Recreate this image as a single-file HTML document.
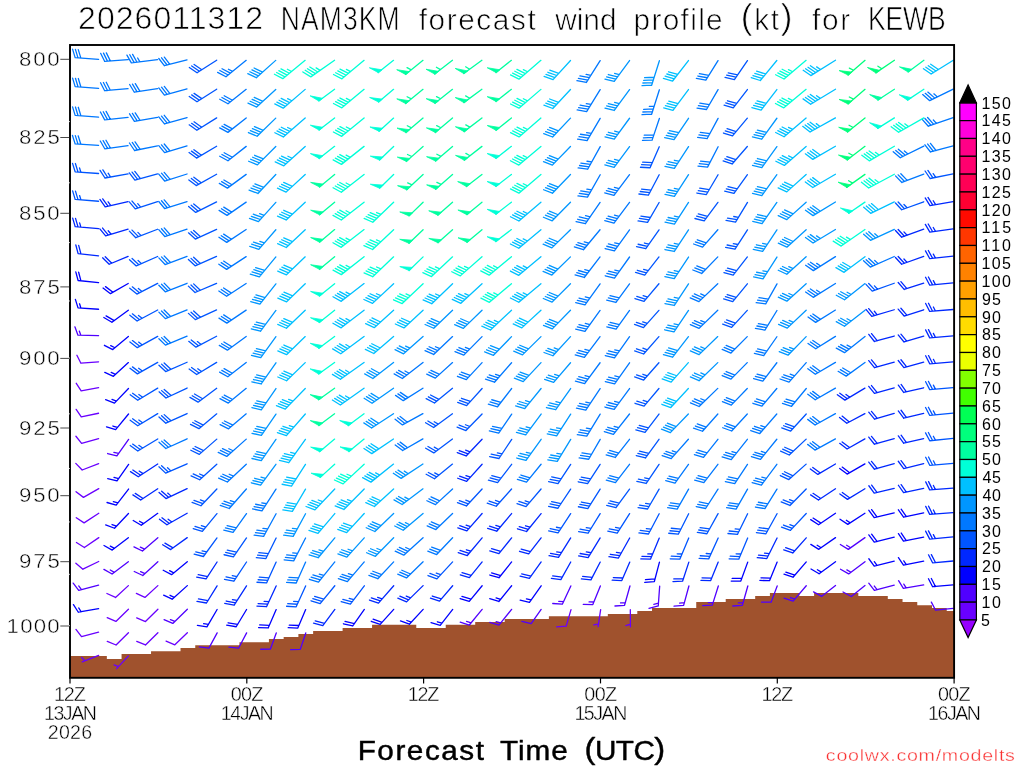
<!DOCTYPE html>
<html lang="en"><head><meta charset="utf-8"><title>NAM3KM forecast wind profile (kt) for KEWB</title>
<style>
html,body{margin:0;padding:0;background:#fff;}
body{width:1024px;height:768px;overflow:hidden;}
svg{display:block;}
text{font-family:"Liberation Sans","DejaVu Sans",sans-serif;}
.b{fill:none;stroke-width:1.30;stroke-linecap:round;stroke-linejoin:round;}
.t{fill:#000;stroke:#fff;stroke-width:0.7px;}
.ax{fill:#000;stroke:#fff;stroke-width:0.45px;}
.xl{fill:#000;stroke:#fff;stroke-width:0.4px;}
.cb{fill:#000;}
.fl{fill:#000;stroke:#000;stroke-width:0.45px;stroke-linejoin:round;}
.cr{fill:#fa3232;stroke:#fff;stroke-width:0.3px;}
</style></head>
<body>
<svg width="1024" height="768" viewBox="0 0 1024 768">
<rect width="1024" height="768" fill="#fff"/>
<path d="M70.0 677.8L70.00 656.0L77.37 656.0L77.37 656.0L92.10 656.0L92.10 656.0L106.84 656.0L106.84 659.0L121.57 659.0L121.57 654.0L136.31 654.0L136.31 654.0L151.04 654.0L151.04 651.2L165.78 651.2L165.78 651.2L180.51 651.2L180.51 648.1L195.25 648.1L195.25 645.3L209.98 645.3L209.98 645.3L224.72 645.3L224.72 645.3L239.45 645.3L239.45 642.2L254.19 642.2L254.19 642.2L268.92 642.2L268.92 639.1L283.66 639.1L283.66 637.0L298.39 637.0L298.39 634.0L313.13 634.0L313.13 630.9L327.86 630.9L327.86 630.9L342.60 630.9L342.60 628.0L357.33 628.0L357.33 628.0L372.07 628.0L372.07 624.8L386.80 624.8L386.80 624.8L401.54 624.8L401.54 624.8L416.27 624.8L416.27 628.0L431.01 628.0L431.01 628.0L445.74 628.0L445.74 624.8L460.48 624.8L460.48 624.8L475.21 624.8L475.21 622.0L489.95 622.0L489.95 622.0L504.68 622.0L504.68 618.9L519.42 618.9L519.42 618.9L534.15 618.9L534.15 618.9L548.89 618.9L548.89 616.2L563.62 616.2L563.62 616.2L578.36 616.2L578.36 616.2L593.09 616.2L593.09 616.2L607.83 616.2L607.83 614.1L622.56 614.1L622.56 614.1L637.30 614.1L637.30 610.9L652.03 610.9L652.03 608.1L666.77 608.1L666.77 608.1L681.50 608.1L681.50 608.1L696.24 608.1L696.24 602.1L710.97 602.1L710.97 602.1L725.71 602.1L725.71 598.9L740.44 598.9L740.44 598.9L755.18 598.9L755.18 596.0L769.91 596.0L769.91 593.1L784.65 593.1L784.65 593.1L799.38 593.1L799.38 596.0L814.12 596.0L814.12 593.1L828.85 593.1L828.85 593.1L843.59 593.1L843.59 593.1L858.32 593.1L858.32 596.1L873.06 596.1L873.06 596.1L887.79 596.1L887.79 599.1L902.53 599.1L902.53 602.0L917.26 602.0L917.26 605.2L932.00 605.2L932.00 608.0L946.73 608.0L946.73 611.1L954.10 611.1L954.1 677.8Z" fill="#a0522d"/>
<g class="b">
<path stroke="#0078ff" d="M98.57 59.40L75.15 57.66M75.15 57.66L72.56 49.17M78.00 57.87L75.41 49.39M80.86 58.08L78.27 49.60M128.04 59.60L104.62 61.33M104.62 61.33L100.64 53.31M107.47 61.12L103.50 53.10M110.33 60.91L106.36 52.88M157.51 59.67L131.35 62.94M131.35 62.94L126.93 55.12M134.19 62.59L129.77 54.76M137.03 62.23L132.61 54.41M139.88 61.88L137.66 57.96M187.01 59.84L164.32 65.72M164.32 65.72L158.80 58.50M167.09 65.01L161.57 57.79M169.85 64.29L164.34 57.07M98.57 88.40L75.16 86.57M75.16 86.57L72.60 78.07M78.01 86.79L75.46 78.30M80.87 87.02L78.31 78.52M128.04 88.63L104.65 90.70M104.65 90.70L100.54 82.73M107.50 90.45L103.40 82.47M110.35 90.19L106.25 82.22M157.52 88.71L134.31 92.23M134.31 92.23L129.66 84.51M137.14 91.80L132.49 84.08M139.97 91.37L135.32 83.65M187.02 88.86L164.42 95.07M164.42 95.07L158.78 87.92M167.17 94.31L161.54 87.17M169.93 93.56L164.30 86.41M98.57 117.09L75.15 115.32M75.15 115.32L72.57 106.83M78.01 115.53L75.43 107.04M80.86 115.75L78.28 107.26M128.04 117.34L104.70 119.90M104.70 119.90L100.41 112.01M107.55 119.59L103.26 111.70M110.39 119.27L106.10 111.39M157.52 117.42L134.40 121.42M134.40 121.42L129.57 113.80M137.22 120.93L132.39 113.31M140.04 120.44L135.21 112.82M187.02 117.55L164.48 123.96M164.48 123.96L158.77 116.86M167.23 123.18L161.52 116.08M169.97 122.40L164.27 115.30M98.57 145.46L75.13 143.90M75.13 143.90L72.47 135.44M77.99 144.09L75.32 135.63M80.85 144.28L78.18 135.82M128.05 145.72L104.77 148.78M104.77 148.78L100.29 140.98M107.61 148.41L103.13 140.61M110.44 148.04L105.97 140.24M157.53 145.82L134.54 150.50M134.54 150.50L129.46 143.01M137.34 149.93L132.26 142.44M140.15 149.36L135.07 141.87M187.03 145.93L164.59 152.67M164.59 152.67L158.77 145.65M167.32 151.85L161.50 144.83M170.06 151.03L164.24 144.01M246.21 60.33L225.98 76.75M225.98 76.75L217.65 72.34M228.18 74.97L219.85 70.55M230.37 73.19L222.04 68.77M232.57 71.41L228.41 69.20M246.20 89.33L228.00 103.74M228.00 103.74L219.73 99.22M230.22 101.98L221.95 97.47M232.44 100.22L224.17 95.71M246.20 118.01L227.95 132.37M227.95 132.37L219.70 127.83M230.18 130.62L221.92 126.08M232.40 128.87L224.15 124.33M246.20 146.37L227.99 160.77M227.99 160.77L219.72 156.26M230.21 159.02L221.94 154.50M232.43 157.26L224.16 152.75M600.15 60.61L586.39 82.45M586.39 82.45L576.95 80.70M587.88 80.08L578.44 78.33M589.38 77.71L579.94 75.96M590.87 75.33L586.15 74.46M600.16 89.62L586.64 111.61M586.64 111.61L577.18 109.95M588.11 109.22L578.65 107.56M589.58 106.83L580.12 105.18M591.05 104.45L586.32 103.62M659.39 89.75L651.62 114.22M651.62 114.22L642.00 114.66M652.46 111.56L642.85 112.00M653.31 108.90L643.69 109.35M654.15 106.25L649.34 106.47M600.18 118.32L587.11 140.56M587.11 140.56L577.62 139.07M588.53 138.14L579.04 136.66M589.95 135.73L580.46 134.24M591.37 133.31L586.63 132.57M659.37 118.43L652.11 140.11M652.11 140.11L642.49 140.42M652.99 137.47L643.37 137.78M653.88 134.82L644.26 135.13M600.21 146.69L587.69 169.23M587.69 169.23L578.16 167.95M589.05 166.78L579.52 165.50M590.41 164.33L580.88 163.06M591.77 161.89L587.01 161.25M718.02 60.61L705.86 80.12M705.86 80.12L696.41 78.41M707.34 77.74L697.90 76.03M708.82 75.36L699.38 73.65M718.06 89.64L706.52 109.50M706.52 109.50L697.02 108.06M707.93 107.08L698.43 105.64M709.34 104.66L699.84 103.22M718.09 118.34L707.22 138.55M707.22 138.55L697.67 137.39M708.54 136.09L699.00 134.92M709.87 133.62L700.32 132.46M718.11 146.71L707.56 167.08M707.56 167.08L697.99 166.05M708.84 164.60L699.28 163.57M710.13 162.11L700.57 161.09M953.25 89.09L929.71 100.64M929.71 100.64L922.69 94.61M932.27 99.39L925.25 93.36M934.83 98.13L927.81 92.10M937.38 96.88L933.87 93.86M953.19 117.62L928.33 126.19M928.33 126.19L922.20 119.40M931.03 125.26L924.90 118.47M933.73 124.33L927.60 117.54M936.43 123.40L933.36 120.00M923.79 146.14L900.26 157.71M900.26 157.71L893.23 151.69M902.82 156.46L895.79 150.43M905.37 155.20L898.34 149.18M907.93 153.94L904.41 150.93M953.16 145.90L930.52 151.98M930.52 151.98L924.93 144.80M933.28 151.24L927.69 144.06M936.04 150.50L930.45 143.32M187.03 174.00L164.68 181.01M164.68 181.01L158.76 174.06M167.41 180.16L161.49 173.20M170.13 179.30L164.22 172.35M187.03 201.73L164.61 208.54M164.61 208.54L158.77 201.54M167.34 207.71L161.50 200.71M170.08 206.88L164.23 199.87M187.04 229.20L164.80 236.54M164.80 236.54L158.77 229.67M167.51 235.64L161.48 228.77M170.22 234.75L164.19 227.88M187.06 256.39L165.11 264.53M165.11 264.53L158.81 257.88M167.79 263.54L161.48 256.88M170.47 262.55L164.16 255.89M246.17 174.38L227.44 188.14M227.44 188.14L219.35 183.35M229.72 186.46L221.64 181.67M232.01 184.78L223.92 180.00M246.15 202.10L227.06 215.38M227.06 215.38L219.11 210.41M229.39 213.76L221.44 208.79M231.72 212.14L223.77 207.17M246.14 229.51L226.76 242.41M226.76 242.41L218.93 237.28M229.13 240.84L221.29 235.71M231.49 239.26L223.65 234.14M246.13 256.65L226.63 269.37M226.63 269.37L218.85 264.18M229.01 267.82L221.23 262.63M231.39 266.27L223.61 261.08M600.20 174.74L587.51 197.18M587.51 197.18L577.99 195.84M588.89 194.74L579.37 193.40M590.27 192.30L580.75 190.96M591.64 189.87L586.89 189.20M629.52 174.65L613.96 195.32M613.96 195.32L604.71 192.86M615.65 193.07L606.40 190.62M617.34 190.83L608.09 188.37M619.03 188.58L614.41 187.36M600.10 202.42L585.43 223.69M585.43 223.69L576.07 221.59M587.02 221.38L577.67 219.28M588.61 219.07L579.26 216.97M590.21 216.76L585.53 215.71M629.52 202.39L613.99 223.08M613.99 223.08L604.74 220.64M615.68 220.83L606.43 218.39M617.37 218.59L608.11 216.15M619.05 216.34L614.43 215.12M600.01 229.79L583.45 249.72M583.45 249.72L574.34 246.88M585.25 247.56L576.14 244.71M587.05 245.40L577.94 242.55M588.85 243.23L584.29 241.81M629.54 229.84L614.41 250.81M614.41 250.81L605.11 248.53M616.05 248.53L606.75 246.25M617.70 246.26L608.40 243.98M619.34 243.98L614.69 242.84M600.05 256.97L584.28 277.49M584.28 277.49L575.06 274.96M585.99 275.26L576.77 272.73M587.70 273.04L578.48 270.50M589.41 270.81L584.80 269.54M629.55 257.00L614.51 278.02M614.51 278.02L605.20 275.78M616.14 275.74L606.83 273.49M617.77 273.46L608.46 271.21M619.41 271.17L614.75 270.05M717.84 229.77L702.57 247.09M702.57 247.09L693.56 244.00M704.44 244.98L695.42 241.89M706.30 242.87L697.28 239.78M717.80 256.87L701.69 273.47M701.69 273.47L692.84 269.98M703.65 271.45L694.81 267.96M705.61 269.42L696.77 265.94M923.74 174.07L901.89 182.45M901.89 182.45L895.50 175.86M904.55 181.43L898.17 174.83M907.22 180.41L900.83 173.81M835.46 256.64L813.36 270.60M813.36 270.60L805.66 265.31M815.76 269.09L808.06 263.79M818.16 267.57L810.46 262.28M820.56 266.05L816.71 263.41M894.30 256.47L870.30 267.09M870.30 267.09L863.55 260.80M872.90 265.93L866.15 259.65M875.51 264.78L868.76 258.50M878.12 263.63L874.74 260.49M187.07 283.27L165.27 291.77M165.27 291.77L158.84 285.21M167.92 290.74L161.50 284.18M170.58 289.70L164.15 283.14M187.07 309.87L165.37 318.60M165.37 318.60L158.86 312.11M168.02 317.54L161.51 311.04M170.66 316.47L164.16 309.98M187.08 336.18L165.46 345.12M165.46 345.12L158.89 338.68M168.10 344.03L161.52 337.59M170.73 342.94L164.16 336.51M246.13 283.51L226.63 296.23M226.63 296.23L218.85 291.04M229.01 294.68L221.23 289.49M231.39 293.13L223.61 287.94M246.14 310.11L226.88 323.16M226.88 323.16L219.00 318.09M229.23 321.57L221.35 316.50M231.58 319.98L223.70 314.91M246.17 336.45L227.40 350.16M227.40 350.16L219.33 345.36M229.69 348.49L221.62 343.69M231.98 346.82L223.91 342.02M246.19 362.52L227.82 376.72M227.82 376.72L219.61 372.13M230.06 374.99L221.85 370.39M232.30 373.26L224.09 368.66M452.55 336.58L433.68 354.46M433.68 354.46L425.00 350.64M435.73 352.52L427.05 348.70M437.78 350.58L429.10 346.76M439.83 348.64L435.49 346.73M482.05 336.61L463.80 355.10M463.80 355.10L454.99 351.55M465.79 353.09L456.97 349.54M467.77 351.08L458.96 347.53M469.75 349.07L465.34 347.30M423.00 362.52L402.36 378.46M402.36 378.46L394.15 373.86M404.60 376.73L396.39 372.13M406.84 375.00L398.63 370.40M409.08 373.27L404.98 370.97M452.53 362.59L435.32 378.12M435.32 378.12L426.75 374.10M437.42 376.22L428.85 372.21M439.52 374.33L430.95 370.32M482.08 362.67L466.34 379.59M466.34 379.59L457.41 376.28M468.26 377.53L459.33 374.22M470.18 375.47L461.25 372.16M511.58 362.70L494.50 382.21M494.50 382.21L485.47 379.14M496.35 380.09L487.32 377.02M498.21 377.97L489.18 374.90M500.06 375.85L495.55 374.32M600.08 283.86L585.00 304.86M585.00 304.86L575.70 302.60M586.64 302.58L577.33 300.32M588.28 300.30L578.97 298.04M589.91 298.02L585.26 296.89M629.54 283.85L615.97 302.46M615.97 302.46L606.69 300.14M617.63 300.19L608.34 297.87M619.28 297.93L609.99 295.60M600.08 310.43L584.99 331.43M584.99 331.43L575.69 329.17M586.63 329.15L577.33 326.89M588.27 326.87L578.96 324.61M589.91 324.59L585.26 323.46M629.55 310.43L616.12 329.14M616.12 329.14L606.81 326.88M617.76 326.86L608.45 324.60M619.39 324.58L610.09 322.32M600.05 336.72L584.42 357.34M584.42 357.34L575.18 354.86M586.12 355.10L576.88 352.62M587.82 352.86L578.58 350.38M589.51 350.62L584.89 349.38M629.55 336.74L614.52 357.78M614.52 357.78L605.21 355.54M616.15 355.50L606.84 353.26M617.79 353.21L608.47 350.97M619.42 350.93L614.76 349.81M600.06 362.76L584.68 383.56M584.68 383.56L575.41 381.18M586.35 381.30L577.08 378.92M588.02 379.04L578.75 376.66M589.69 376.78L585.06 375.59M629.55 362.78L614.63 383.88M614.63 383.88L605.30 381.68M616.25 381.59L606.92 379.39M617.87 379.30L608.55 377.10M619.49 377.01L614.83 375.91M717.76 283.70L698.92 301.62M698.92 301.62L690.24 297.82M700.97 299.67L692.28 295.87M703.01 297.73L694.33 293.93M705.06 295.78L700.72 293.88M777.00 283.93L765.71 303.92M765.71 303.92L756.19 302.58M767.09 301.48L757.57 300.15M768.46 299.05L758.95 297.71M717.77 310.29L699.08 328.35M699.08 328.35L690.36 324.61M701.11 326.39L692.39 322.65M703.14 324.43L694.42 320.69M705.17 322.47L700.81 320.60M776.96 310.48L764.90 330.05M764.90 330.05L755.45 328.39M766.37 327.67L756.92 326.00M767.84 325.28L758.39 323.62M747.25 336.61L730.96 353.04M730.96 353.04L722.16 349.47M732.95 351.03L724.15 347.46M734.93 349.03L726.13 345.46M776.90 336.75L763.73 355.63M763.73 355.63L754.39 353.49M765.34 353.33L756.00 351.18M766.94 351.03L757.60 348.88M747.25 362.65L730.99 379.10M730.99 379.10L722.18 375.54M732.98 377.09L724.17 373.54M734.96 375.09L726.15 371.53M776.85 362.75L762.83 381.04M762.83 381.04L753.60 378.52M764.54 378.81L755.31 376.29M766.25 376.58L757.02 374.06M806.24 362.69L789.05 382.11M789.05 382.11L780.04 379.00M790.92 380.00L781.91 376.89M792.78 377.89L783.78 374.78M794.65 375.78L790.15 374.23M835.46 283.49L813.27 297.33M813.27 297.33L805.60 292.00M815.68 295.83L808.01 290.49M818.09 294.33L810.42 288.99M820.50 292.82L816.66 290.16M835.45 310.07L815.68 322.38M815.68 322.38L808.03 317.04M818.09 320.88L810.44 315.54M820.51 319.38L812.85 314.04M835.46 336.38L815.73 348.76M815.73 348.76L808.05 343.45M818.14 347.25L810.46 341.94M820.54 345.74L812.86 340.43M865.01 336.49L844.56 352.66M844.56 352.66L836.29 348.15M846.78 350.91L838.52 346.39M849.00 349.15L840.74 344.64M851.22 347.40L847.09 345.14M835.44 362.38L815.34 374.19M815.34 374.19L807.84 368.66M817.79 372.75L810.29 367.22M820.24 371.31L812.74 365.78M864.98 362.49L846.16 376.14M846.16 376.14L838.11 371.31M848.45 374.47L840.40 369.64M850.75 372.81L842.69 367.98M187.10 438.80L165.84 448.51M165.84 448.51L159.01 442.30M168.43 447.32L161.60 441.11M171.02 446.14L164.19 439.93M246.22 388.32L228.29 403.05M228.29 403.05L219.93 398.68M230.48 401.26L222.12 396.89M232.67 399.46L224.30 395.09M246.23 413.85L228.56 428.87M228.56 428.87L220.12 424.62M230.72 427.04L222.28 422.79M232.87 425.20L224.43 420.96M246.25 439.12L226.78 456.40M226.78 456.40L218.25 452.32M228.90 454.52L220.36 450.44M231.01 452.65L222.48 448.57M233.13 450.77L228.86 448.73M246.28 464.16L227.33 481.97M227.33 481.97L218.67 478.11M229.38 480.03L220.73 476.18M231.44 478.10L222.78 474.24M233.50 476.16L229.17 474.24M422.92 388.19L403.26 400.67M403.26 400.67L395.56 395.39M405.66 399.15L397.95 393.87M408.06 397.63L400.35 392.35M511.64 388.52L497.54 406.76M497.54 406.76L488.33 404.20M499.26 404.53L490.05 401.97M500.98 402.31L491.77 399.75M422.88 413.63L402.45 424.89M402.45 424.89L395.12 419.18M404.94 423.52L397.61 417.81M407.43 422.15L400.10 416.44M511.70 414.07L498.70 433.06M498.70 433.06L489.34 430.99M500.29 430.75L490.93 428.67M501.87 428.43L492.51 426.36M422.89 438.91L402.70 450.56M402.70 450.56L395.25 444.98M405.16 449.14L397.71 443.56M407.62 447.72L400.17 442.14M600.12 388.57L585.81 410.08M585.81 410.08L576.43 408.12M587.37 407.74L577.98 405.78M588.92 405.41L579.53 403.45M590.47 403.07L585.78 402.09M629.54 388.54L614.22 409.38M614.22 409.38L604.94 407.03M615.88 407.12L606.61 404.76M617.55 404.85L608.27 402.50M619.21 402.59L614.57 401.41M600.17 414.11L586.79 436.17M586.79 436.17L577.32 434.57M588.24 433.78L578.77 432.18M589.70 431.38L580.23 429.78M591.15 428.99L586.41 428.19M629.50 414.02L613.45 434.34M613.45 434.34L604.27 431.69M615.19 432.13L606.01 429.49M616.94 429.93L607.75 427.28M618.68 427.72L614.09 426.40M600.19 439.38L588.68 459.26M588.68 459.26L579.18 457.83M590.09 456.84L580.59 455.41M591.49 454.41L581.99 452.98M629.50 439.28L615.33 457.47M615.33 457.47L606.13 454.87M617.06 455.25L607.86 452.65M618.79 453.03L609.58 450.44M541.08 464.28L526.51 482.16M526.51 482.16L517.37 479.38M528.28 479.98L519.14 477.20M530.06 477.80L520.92 475.02M629.51 464.30L615.48 482.59M615.48 482.59L606.26 480.06M617.19 480.36L607.97 477.83M618.90 478.13L609.68 475.60M717.77 388.40L699.13 406.52M699.13 406.52L690.40 402.80M701.16 404.55L692.43 400.83M703.18 402.58L694.45 398.87M705.20 400.61L700.84 398.76M747.27 388.43L731.29 405.15M731.29 405.15L722.42 401.72M733.24 403.11L724.37 399.69M735.19 401.07L726.32 397.65M776.80 388.49L761.96 406.16M761.96 406.16L752.87 403.27M763.77 404.01L754.68 401.11M765.58 401.85L756.49 398.96M806.28 388.49L791.56 406.27M791.56 406.27L782.45 403.43M793.36 404.10L784.24 401.26M795.15 401.93L786.04 399.10M717.84 413.98L702.52 431.26M702.52 431.26L693.51 428.14M704.38 429.15L695.38 426.03M706.25 427.04L697.25 423.92M747.29 413.96L731.68 431.00M731.68 431.00L722.73 427.75M733.59 428.92L724.64 425.68M735.49 426.85L726.54 423.60M776.78 413.98L759.78 433.55M759.78 433.55L750.74 430.52M761.63 431.43L752.59 428.40M763.47 429.30L754.43 426.27M765.32 427.18L760.80 425.66M688.38 439.23L671.20 458.67M671.20 458.67L662.19 455.57M673.07 456.56L664.06 453.46M674.93 454.45L665.92 451.35M676.80 452.34L672.29 450.79M717.90 439.28L703.53 457.32M703.53 457.32L694.36 454.64M705.28 455.12L696.11 452.44M707.04 452.92L697.86 450.24M747.36 439.28L731.27 459.56M731.27 459.56L722.09 456.90M733.02 457.36L723.84 454.69M734.77 455.16L725.59 452.49M736.51 452.95L731.92 451.62M776.82 439.27L760.52 459.40M760.52 459.40L751.37 456.65M762.29 457.21L753.14 454.47M764.06 455.03L754.91 452.28M765.83 452.84L761.26 451.47M688.48 464.32L675.02 483.01M675.02 483.01L665.72 480.73M676.66 480.73L667.36 478.46M678.30 478.45L669.00 476.18M717.91 464.30L703.88 482.59M703.88 482.59L694.66 480.06M705.60 480.36L696.37 477.83M707.31 478.13L698.08 475.60M747.46 464.35L734.74 483.52M734.74 483.52L725.35 481.57M736.29 481.18L726.90 479.23M737.84 478.85L728.45 476.90M776.86 464.31L761.41 485.06M761.41 485.06L752.15 482.65M763.09 482.80L753.83 480.40M764.77 480.55L755.51 478.14M766.44 478.30L761.81 477.09M835.43 388.14L815.24 399.80M815.24 399.80L807.79 394.23M817.71 398.38L810.25 392.81M820.17 396.96L812.71 391.39M835.42 413.64L815.07 425.03M815.07 425.03L807.70 419.37M817.56 423.65L810.18 417.98M820.04 422.26L812.66 416.59M835.42 438.89L814.96 450.10M814.96 450.10L807.64 444.37M817.45 448.73L810.14 443.00M819.95 447.36L812.63 441.64M246.37 489.01L229.27 508.50M229.27 508.50L220.25 505.43M231.13 506.38L222.10 503.31M232.98 504.27L223.96 501.19M234.84 502.15L230.33 500.61M276.00 489.12L261.98 510.81M261.98 510.81L252.57 508.96M263.50 508.46L254.09 506.61M265.03 506.10L255.61 504.25M266.55 503.75L261.84 502.82M246.48 513.62L233.09 532.35M233.09 532.35L223.78 530.11M234.72 530.07L225.41 527.82M236.35 527.78L227.04 525.54M276.08 513.70L263.70 536.30M263.70 536.30L254.17 535.08M265.05 533.85L255.51 532.62M266.39 531.39L256.86 530.17M267.74 528.94L262.97 528.33M305.57 538.00L293.68 560.85M293.68 560.85L284.12 559.81M294.97 558.37L285.41 557.33M296.26 555.89L286.70 554.85M297.56 553.41L292.78 552.89M305.64 562.09L296.23 582.98M296.23 582.98L286.62 582.43M297.38 580.44L287.77 579.88M298.52 577.89L288.91 577.33M334.81 561.92L318.50 582.04M318.50 582.04L309.35 579.28M320.27 579.85L311.12 577.10M322.04 577.67L312.90 574.92M323.81 575.48L319.24 574.11M364.25 561.90L347.40 581.59M347.40 581.59L338.33 578.62M349.23 579.45L340.16 576.48M351.06 577.32L342.00 574.34M352.89 575.18L348.36 573.69M452.54 488.92L435.52 504.64M435.52 504.64L426.90 500.72M437.60 502.72L428.98 498.80M439.67 500.80L431.05 496.88M452.56 513.47L435.92 529.56M435.92 529.56L427.20 525.82M437.95 527.59L429.23 523.85M439.98 525.63L431.26 521.89M423.06 537.73L403.76 555.17M403.76 555.17L395.19 551.17M405.86 553.28L397.28 549.28M407.95 551.39L399.38 547.38M410.05 549.49L405.76 547.49M452.60 537.80L436.68 554.56M436.68 554.56L427.80 551.17M438.62 552.52L429.74 549.12M440.56 550.47L431.68 547.08M393.67 561.86L377.84 578.71M377.84 578.71L368.94 575.35M379.77 576.65L370.87 573.30M381.70 574.60L372.80 571.25M423.10 561.82L406.46 577.92M406.46 577.92L397.74 574.18M408.49 575.95L399.77 572.22M410.52 573.99L401.80 570.26M688.60 489.16L677.20 509.09M677.20 509.09L667.69 507.71M678.59 506.66L669.08 505.28M679.98 504.23L670.47 502.85M718.01 489.13L705.62 508.50M705.62 508.50L696.20 506.70M707.13 506.14L697.71 504.33M708.64 503.78L699.22 501.97M747.53 489.16L736.11 509.08M736.11 509.08L726.60 507.69M737.50 506.65L727.99 505.26M738.89 504.22L729.39 502.83M776.96 489.14L764.88 508.69M764.88 508.69L755.42 507.02M766.35 506.31L756.90 504.63M767.82 503.92L758.37 502.25"/>
<path stroke="#0055ff" d="M216.66 60.22L197.05 72.77M197.05 72.77L189.32 67.52M199.44 71.24L191.71 65.99M201.83 69.71L194.10 64.46M216.65 89.22L197.00 101.71M197.00 101.71L189.29 96.43M199.40 100.19L191.69 94.91M201.79 98.66L194.08 93.39M216.65 117.89L196.87 130.19M196.87 130.19L189.21 124.84M199.28 128.69L191.62 123.34M201.69 127.19L194.04 121.84M216.63 146.23L196.56 158.07M196.56 158.07L189.04 152.56M199.00 156.62L191.49 151.12M201.45 155.18L193.94 149.67M659.26 146.75L650.07 167.73M650.07 167.73L640.46 167.27M651.19 165.17L641.58 164.71M652.31 162.61L642.70 162.15M747.44 60.58L734.40 79.55M734.40 79.55L725.04 77.46M735.99 77.23L726.63 75.14M737.58 74.92L728.22 72.83M747.38 89.55L733.27 107.78M733.27 107.78L724.06 105.22M734.99 105.56L725.78 102.99M736.71 103.33L727.50 100.77M747.34 118.20L732.53 135.90M732.53 135.90L723.43 133.02M734.33 133.74L725.23 130.86M736.14 131.58L727.04 128.70M747.32 146.54L732.14 163.95M732.14 163.95L723.11 160.90M733.99 161.82L724.96 158.78M735.84 159.70L726.81 156.65M98.57 173.50L75.14 171.81M75.14 171.81L72.53 163.33M78.00 172.02L75.39 163.54M80.86 172.23L79.55 167.99M128.06 173.84L104.96 178.01M104.96 178.01L100.07 170.42M107.78 177.50L102.88 169.91M110.59 176.99L108.15 173.20M157.55 173.95L134.91 180.04M134.91 180.04L129.32 172.87M137.67 179.30L132.08 172.13M140.43 178.56L134.84 171.38M216.61 174.24L196.24 185.59M196.24 185.59L188.88 179.91M198.72 184.21L191.36 178.52M201.21 182.82L193.85 177.14M98.57 201.23L75.16 199.34M75.16 199.34L72.63 190.84M78.02 199.57L75.48 191.07M80.87 199.80L79.60 195.55M157.57 201.74L135.24 208.84M135.24 208.84L129.30 201.91M137.97 207.98L132.02 201.05M140.69 207.11L137.71 203.65M216.59 201.94L195.73 212.43M195.73 212.43L188.64 206.47M198.27 211.15L191.19 205.19M200.82 209.87L193.73 203.91M157.60 229.26L135.77 237.70M135.77 237.70L129.37 231.12M138.43 236.67L132.03 230.09M141.09 235.64L137.89 232.35M216.56 229.33L195.31 239.05M195.31 239.05L188.48 232.85M197.90 237.87L191.07 231.66M200.50 236.68L193.66 230.48M157.62 256.47L136.25 265.93M136.25 265.93L129.50 259.65M138.86 264.78L132.10 258.49M141.46 263.62L138.09 260.48M216.55 256.46L195.13 265.81M195.13 265.81L188.41 259.49M197.74 264.67L191.03 258.35M200.35 263.53L193.64 257.21M659.17 174.76L648.49 195.06M648.49 195.06L638.93 193.98M649.79 192.59L640.24 191.50M651.09 190.11L641.54 189.03M659.12 202.47L647.58 222.33M647.58 222.33L638.08 220.89M648.99 219.91L639.49 218.46M650.39 217.49L640.90 216.04M659.03 229.85L645.82 248.71M645.82 248.71L636.49 246.55M647.43 246.41L638.10 244.25M649.04 244.11L644.37 243.03M658.97 256.96L644.72 275.09M644.72 275.09L635.53 272.47M646.46 272.88L637.27 270.26M648.20 270.67L643.60 269.36M718.05 174.73L706.39 194.52M706.39 194.52L696.90 193.02M707.81 192.11L698.32 190.61M709.23 189.69L699.74 188.20M747.42 174.66L733.98 193.37M733.98 193.37L724.68 191.11M735.62 191.09L726.31 188.83M737.26 188.81L727.95 186.55M717.93 202.39L704.20 220.89M704.20 220.89L694.93 218.50M705.87 218.64L696.61 216.24M707.55 216.38L698.28 213.98M747.50 202.46L735.54 222.08M735.54 222.08L726.08 220.46M737.00 219.69L727.54 218.07M738.46 217.30L733.73 216.49M747.47 229.88L734.99 249.20M734.99 249.20L725.58 247.35M736.51 246.84L727.10 245.00M738.03 244.49L733.33 243.57M747.37 256.96L733.19 275.14M733.19 275.14L723.99 272.55M734.92 272.92L725.72 270.33M736.65 270.71L727.45 268.11M953.14 173.86L930.14 178.50M930.14 178.50L925.07 171.00M932.94 177.93L927.88 170.44M935.75 177.37L933.21 173.62M923.73 201.79L901.71 209.74M901.71 209.74L895.47 203.03M904.40 208.77L898.15 202.06M907.08 207.80L903.96 204.45M157.66 283.40L136.89 294.05M136.89 294.05L129.75 288.14M139.42 292.75L132.28 286.84M141.95 291.45L138.38 288.50M216.55 283.31L195.05 292.50M195.05 292.50L188.39 286.14M197.67 291.38L191.01 285.02M200.29 290.26L193.63 283.90M157.67 309.99L137.08 320.98M137.08 320.98L129.84 315.18M139.59 319.64L132.35 313.84M142.10 318.30L138.48 315.40M216.56 309.92L195.30 319.61M195.30 319.61L188.47 313.39M197.89 318.43L191.06 312.21M200.48 317.25L193.66 311.03M157.68 336.32L137.31 347.68M137.31 347.68L129.95 342.00M139.79 346.29L132.43 340.61M142.28 344.91L138.60 342.07M216.60 336.29L195.96 347.18M195.96 347.18L188.74 341.34M198.47 345.85L191.26 340.01M200.99 344.52L197.38 341.61M157.69 362.36L137.41 373.89M137.41 373.89L130.00 368.27M139.89 372.48L132.47 366.86M142.36 371.08L138.65 368.27M187.09 362.24L165.66 371.59M165.66 371.59L158.95 365.27M168.27 370.45L161.56 364.13M170.88 369.31L164.17 362.99M216.64 362.39L196.70 374.45M196.70 374.45L189.12 369.01M199.13 372.98L191.55 367.54M201.56 371.51L197.77 368.79M658.93 283.79L644.04 301.43M644.04 301.43L634.95 298.51M645.85 299.28L636.77 296.36M647.67 297.13L643.13 295.67M658.90 310.35L643.51 327.58M643.51 327.58L634.52 324.43M645.39 325.48L636.40 322.33M647.26 323.38L642.77 321.80M658.91 336.66L643.64 353.99M643.64 353.99L634.63 350.90M645.51 351.88L636.49 348.79M647.37 349.76L642.86 348.22M658.91 362.70L643.67 380.05M643.67 380.05L634.65 376.97M645.53 377.93L636.51 374.86M647.39 375.82L642.88 374.28M747.35 283.81L732.76 301.68M732.76 301.68L723.62 298.89M734.54 299.50L725.40 296.72M736.32 297.32L727.18 294.54M747.29 310.34L731.65 327.35M731.65 327.35L722.71 324.09M733.56 325.28L724.61 322.01M735.46 323.20L726.52 319.94M894.26 283.24L872.22 291.13M872.22 291.13L866.00 284.40M874.91 290.17L868.69 283.44M877.59 289.20L874.48 285.84M157.70 388.17L137.76 400.22M137.76 400.22L130.18 394.78M140.19 398.75L132.62 393.31M142.63 397.28L138.84 394.56M187.10 388.04L165.96 397.98M165.96 397.98L159.05 391.84M168.54 396.77L161.63 390.63M171.11 395.56L164.21 389.42M216.71 388.27L198.08 402.16M198.08 402.16L189.96 397.43M200.35 400.46L192.23 395.73M202.63 398.77L194.50 394.04M157.70 413.68L137.74 425.70M137.74 425.70L130.17 420.25M140.18 424.23L132.61 418.79M142.61 422.77L138.83 420.04M187.09 413.54L165.82 423.20M165.82 423.20L159.00 416.98M168.41 422.02L161.59 415.80M171.01 420.85L164.19 414.62M216.76 413.84L198.92 428.67M198.92 428.67L190.53 424.35M201.10 426.86L192.71 422.54M203.27 425.06L194.88 420.73M157.70 438.94L137.77 451.00M137.77 451.00L130.19 445.56M140.20 449.53L132.62 444.09M142.63 448.06L138.84 445.34M216.78 439.12L199.31 454.37M199.31 454.37L190.82 450.23M201.44 452.51L192.94 448.37M203.57 450.65L195.07 446.51M187.09 463.79L165.66 473.14M165.66 473.14L158.95 466.82M168.27 472.00L161.56 465.68M170.88 470.86L167.53 467.70M216.80 464.15L199.69 479.78M199.69 479.78L191.09 475.81M201.78 477.87L193.18 473.91M203.87 475.96L199.57 473.98M452.49 388.31L434.50 402.99M434.50 402.99L426.16 398.59M436.70 401.20L428.35 396.80M438.89 399.41L430.55 395.01M482.10 388.46L466.65 405.64M466.65 405.64L457.67 402.46M468.54 403.54L459.55 400.37M470.42 401.45L461.44 398.27M452.44 413.77L433.68 427.49M433.68 427.49L425.60 422.69M435.97 425.82L427.89 421.02M438.25 424.15L434.22 421.75M482.06 413.94L465.96 430.54M465.96 430.54L457.12 427.07M467.93 428.52L459.08 425.04M469.89 426.49L465.47 424.76M452.45 439.04L433.82 452.93M433.82 452.93L425.70 448.20M436.09 451.24L427.97 446.51M438.36 449.54L434.30 447.18M511.72 439.34L498.98 458.50M498.98 458.50L489.59 456.54M500.53 456.16L491.15 454.20M502.09 453.83L497.39 452.85M452.48 464.09L434.46 478.72M434.46 478.72L426.13 474.30M436.66 476.93L428.33 472.51M438.86 475.15L434.69 472.94M511.65 464.30L497.61 482.59M497.61 482.59L488.39 480.06M499.33 480.36L490.10 477.83M501.04 478.13L491.81 475.60M658.93 388.49L644.08 406.15M644.08 406.15L634.99 403.26M645.90 404.00L636.80 401.10M647.71 401.84L643.16 400.40M658.99 414.04L645.07 432.41M645.07 432.41L635.83 429.93M646.77 430.17L637.53 427.69M648.46 427.93L639.22 425.45M659.01 439.31L645.53 457.99M645.53 457.99L636.23 455.71M647.18 455.71L637.88 453.43M648.82 453.43L639.52 451.15M570.66 464.35L558.02 483.57M558.02 483.57L548.62 481.66M559.56 481.23L550.16 479.31M561.10 478.88L551.70 476.97M600.13 464.36L587.61 483.65M587.61 483.65L578.20 481.78M589.13 481.29L579.72 479.43M590.66 478.94L581.25 477.08M659.05 464.35L646.22 483.45M646.22 483.45L636.84 481.45M647.79 481.12L638.41 479.12M649.35 478.79L644.66 477.79M806.23 413.96L790.69 431.06M790.69 431.06L781.73 427.85M792.58 428.98L783.62 425.76M794.48 426.89L785.52 423.68M806.15 439.15L789.25 454.99M789.25 454.99L780.60 451.12M791.31 453.06L782.66 449.19M793.37 451.12L784.72 447.26M806.13 464.14L788.85 479.59M788.85 479.59L780.30 475.54M790.96 477.70L782.41 473.65M793.06 475.82L784.51 471.77M953.12 387.60L929.72 389.66M929.72 389.66L925.62 381.69M932.57 389.41L928.47 381.44M935.43 389.16L933.38 385.17M953.12 413.12L929.75 415.44M929.75 415.44L925.55 407.51M932.60 415.16L928.40 407.23M935.45 414.88L933.35 410.91M953.12 438.38L929.75 440.76M929.75 440.76L925.54 432.84M932.60 440.47L928.39 432.55M935.45 440.18L933.34 436.22M953.12 463.37L929.71 465.28M929.71 465.28L925.66 457.29M932.56 465.05L928.52 457.05M935.42 464.82L933.39 460.82M216.87 488.98L200.96 505.76M200.96 505.76L192.07 502.37M202.90 503.71L194.01 500.32M204.84 501.67L200.40 499.97M216.94 513.57L202.35 531.43M202.35 531.43L193.21 528.65M204.13 529.26L194.99 526.47M205.91 527.08L201.34 525.69M217.00 537.90L203.41 556.50M203.41 556.50L194.13 554.17M205.07 554.23L195.78 551.90M206.73 551.96L202.08 550.80M246.50 537.92L233.42 556.86M233.42 556.86L224.07 554.75M235.01 554.55L225.66 552.44M236.61 552.24L227.26 550.13M276.13 538.01L265.93 558.55M265.93 558.55L256.35 557.67M267.17 556.05L257.59 555.17M268.42 553.54L258.83 552.66M246.52 562.00L233.89 581.22M233.89 581.22L224.49 579.31M235.43 578.88L226.03 576.97M236.97 576.53L232.27 575.58M276.16 562.09L266.57 582.90M266.57 582.90L256.97 582.27M267.74 580.37L258.14 579.74M268.91 577.83L259.31 577.20M482.08 488.99L466.38 505.95M466.38 505.95L457.45 502.66M468.30 503.88L459.37 500.59M470.21 501.81L465.75 500.17M511.57 489.01L496.21 506.26M496.21 506.26L487.21 503.12M498.08 504.15L489.08 501.02M499.95 502.05L495.46 500.48M452.62 561.87L436.92 578.83M436.92 578.83L427.99 575.54M438.83 576.76L429.90 573.47M440.75 574.70L436.28 573.05M541.06 489.02L526.06 506.57M526.06 506.57L516.99 503.60M527.89 504.43L518.82 501.46M529.71 502.29L525.18 500.81M570.65 489.11L557.90 508.26M557.90 508.26L548.51 506.30M559.45 505.93L550.07 503.96M561.01 503.59L551.62 501.63M600.14 489.13L587.82 508.54M587.82 508.54L578.39 506.76M589.32 506.17L579.89 504.39M590.82 503.81L581.39 502.03M629.54 489.08L615.98 507.71M615.98 507.71L606.69 505.39M617.64 505.43L608.35 503.12M619.29 503.16L610.00 500.85M659.12 489.15L647.57 509.01M647.57 509.01L638.07 507.56M648.98 506.59L639.48 505.14M650.38 504.16L645.64 503.44M570.66 513.65L558.05 532.88M558.05 532.88L548.65 530.98M559.59 530.54L550.18 528.63M561.12 528.19L556.42 527.24M600.16 513.66L588.07 533.22M588.07 533.22L578.62 531.54M589.55 530.83L580.09 529.16M591.02 528.45L586.29 527.61M629.61 513.65L617.22 533.03M617.22 533.03L607.80 531.22M618.73 530.66L609.31 528.86M620.24 528.30L615.53 527.40M659.17 513.71L648.51 534.02M648.51 534.02L638.95 532.95M649.81 531.55L640.25 530.47M651.11 529.07L646.33 528.53M806.19 488.96L789.96 505.45M789.96 505.45L781.14 501.90M791.94 503.44L783.12 499.89M793.92 501.43L789.51 499.66M688.66 513.72L678.31 534.19M678.31 534.19L668.74 533.25M679.57 531.69L670.00 530.75M680.84 529.19L671.26 528.26M718.08 513.69L706.90 533.75M706.90 533.75L697.38 532.46M708.26 531.30L698.74 530.01M709.63 528.86L700.10 527.57M747.61 513.72L737.54 534.32M737.54 534.32L727.96 533.50M738.77 531.81L729.18 530.99M740.00 529.30L735.20 528.89M777.02 513.69L765.92 533.79M765.92 533.79L756.39 532.54M767.27 531.34L757.74 530.09M768.63 528.89L759.10 527.64M806.22 513.51L790.45 530.42M790.45 530.42L781.54 527.10M792.38 528.36L783.46 525.04M794.30 526.30L789.84 524.63M688.74 538.04L679.82 559.13M679.82 559.13L670.20 558.78M680.90 556.56L671.28 556.21M681.99 553.99L677.18 553.81M718.17 538.03L708.69 558.89M708.69 558.89L699.09 558.31M709.85 556.35L700.24 555.76M711.01 553.80L706.20 553.51M747.67 538.04L738.75 559.13M738.75 559.13L729.13 558.78M739.84 556.56L730.22 556.20M740.92 553.99L736.11 553.81M305.64 585.93L296.18 606.80M296.18 606.80L286.57 606.23M297.34 604.25L287.73 603.68M298.49 601.71L293.68 601.42M334.81 585.75L320.17 603.59M320.17 603.59L311.05 600.79M321.96 601.42L312.83 598.61M323.74 599.24L314.61 596.44M364.32 585.78L350.39 604.15M350.39 604.15L341.15 601.66M352.09 601.91L342.85 599.42M353.78 599.67L349.17 598.43"/>
<path stroke="#0096ff" d="M275.72 60.38L256.31 77.71M256.31 77.71L247.76 73.66M258.42 75.83L249.87 71.78M260.53 73.95L251.98 69.90M262.64 72.07L254.09 68.01M275.74 89.40L256.64 107.06M256.64 107.06L248.01 103.14M258.71 105.14L250.09 101.22M260.79 103.22L252.16 99.31M262.86 101.31L254.24 97.39M275.76 118.11L257.14 136.24M257.14 136.24L248.41 132.53M259.16 134.27L250.43 130.56M261.18 132.30L252.45 128.59M263.21 130.33L254.47 126.62M275.78 146.48L257.42 164.86M257.42 164.86L248.63 161.26M259.41 162.87L250.62 159.27M261.40 160.87L252.62 157.27M263.40 158.88L254.61 155.28M629.54 60.56L614.23 81.41M614.23 81.41L604.95 79.06M615.90 79.15L606.62 76.80M617.56 76.88L608.28 74.53M619.22 74.62L614.58 73.44M659.39 60.74L651.65 85.22M651.65 85.22L642.03 85.67M652.49 82.56L642.87 83.01M653.33 79.90L643.72 80.35M654.17 77.24L644.56 77.70M629.54 89.57L614.26 110.44M614.26 110.44L604.98 108.10M615.92 108.17L606.64 105.83M617.58 105.90L608.30 103.57M619.24 103.64L614.60 102.47M570.47 118.15L552.62 136.99M552.62 136.99L543.73 133.60M554.56 134.94L545.67 131.56M556.50 132.90L547.61 129.51M558.43 130.85L549.55 127.46M629.54 118.25L614.29 139.14M614.29 139.14L605.01 136.81M615.95 136.87L606.66 134.55M617.60 134.60L608.32 132.28M619.26 132.34L614.62 131.17M570.46 146.50L552.36 165.11M552.36 165.11L543.51 161.62M554.32 163.09L545.48 159.60M556.29 161.07L547.45 157.58M558.25 159.05L549.41 155.56M629.53 146.61L614.12 167.38M614.12 167.38L604.85 164.99M615.79 165.12L606.53 162.73M617.47 162.87L608.20 160.48M619.14 160.61L614.51 159.42M688.51 118.28L674.04 139.68M674.04 139.68L664.67 137.66M675.61 137.35L666.24 135.33M677.18 135.03L667.81 133.01M678.75 132.71L669.38 130.68M776.88 118.25L761.72 139.20M761.72 139.20L752.42 136.91M763.36 136.93L754.07 134.63M765.01 134.65L755.71 132.36M766.66 132.38L757.36 130.08M688.53 146.65L674.40 168.27M674.40 168.27L665.00 166.38M675.94 165.92L666.53 164.03M677.47 163.57L668.07 161.68M679.01 161.22L674.30 160.28M776.88 146.62L761.81 167.63M761.81 167.63L752.50 165.37M763.45 165.34L754.14 163.09M765.08 163.06L755.78 160.81M766.72 160.78L757.41 158.52M275.80 174.56L257.99 193.44M257.99 193.44L249.09 190.07M259.92 191.38L251.03 188.02M261.86 189.33L252.96 185.97M263.79 187.28L254.90 183.92M275.83 202.32L258.46 221.58M258.46 221.58L249.48 218.40M260.35 219.49L251.37 216.31M262.23 217.40L253.25 214.22M264.12 215.31L259.63 213.71M275.84 229.77L258.83 249.33M258.83 249.33L249.79 246.30M260.68 247.21L251.64 244.17M262.52 245.09L253.49 242.05M264.37 242.96L259.85 241.44M275.87 256.94L259.37 276.91M259.37 276.91L250.25 274.08M261.16 274.74L252.04 271.91M262.95 272.57L253.83 269.74M264.74 270.41L255.62 267.57M570.46 174.55L552.43 193.23M552.43 193.23L543.57 189.76M554.39 191.20L545.53 187.73M556.34 189.17L547.49 185.71M558.30 187.14L549.45 183.68M570.45 202.28L552.22 220.78M552.22 220.78L543.41 217.23M554.20 218.77L545.39 215.22M556.18 216.76L547.37 213.22M558.16 214.75L549.35 211.21M570.44 229.70L551.85 247.87M551.85 247.87L543.11 244.17M553.87 245.89L545.13 242.20M555.89 243.92L547.15 240.23M557.90 241.95L549.16 238.25M570.44 256.85L551.87 275.03M551.87 275.03L543.12 271.35M553.89 273.06L545.14 269.37M555.90 271.09L547.16 267.40M557.92 269.11L549.17 265.42M688.53 174.70L674.41 196.32M674.41 196.32L665.01 194.43M675.94 193.97L666.54 192.08M677.48 191.62L668.07 189.74M679.01 189.27L674.31 188.33M776.88 174.66L761.82 195.68M761.82 195.68L752.51 193.42M763.45 193.40L754.15 191.14M765.09 191.11L755.78 188.86M766.73 188.83L757.42 186.58M688.53 202.44L674.44 224.08M674.44 224.08L665.04 222.21M675.97 221.73L666.57 219.86M677.50 219.38L668.10 217.50M679.03 217.03L674.33 216.09M776.89 202.41L762.07 223.58M762.07 223.58L752.73 221.42M763.68 221.29L754.34 219.12M765.29 218.99L755.95 216.82M766.90 216.69L757.56 214.52M806.13 202.22L786.80 219.64M786.80 219.64L778.23 215.62M788.90 217.75L780.33 213.73M791.00 215.85L782.43 211.84M793.10 213.96L784.53 209.94M688.53 229.88L674.33 251.45M674.33 251.45L664.93 249.53M675.87 249.11L666.47 247.19M677.41 246.76L668.01 244.85M678.95 244.42L674.25 243.46M776.92 229.87L762.64 251.40M762.64 251.40L753.25 249.45M764.19 249.06L754.80 247.11M765.74 246.72L756.35 244.77M767.29 244.38L762.60 243.41M806.14 229.67L786.89 247.18M786.89 247.18L778.30 243.20M788.98 245.27L780.39 241.30M791.07 243.37L782.48 239.39M793.16 241.47L784.57 237.49M688.52 257.02L674.27 278.56M674.27 278.56L664.88 276.62M675.82 276.22L666.43 274.29M677.37 273.88L667.97 271.95M678.91 271.55L674.22 270.58M776.94 257.03L763.03 278.78M763.03 278.78L753.60 276.97M764.54 276.42L755.11 274.61M766.05 274.06L756.63 272.25M767.56 271.70L762.85 270.79M806.13 256.81L786.83 274.26M786.83 274.26L778.26 270.26M788.93 272.37L780.35 268.36M791.03 270.47L782.45 266.47M793.12 268.58L788.83 266.58M835.45 202.03L813.08 215.60M813.08 215.60L805.49 210.18M815.51 214.13L807.92 208.70M817.94 212.65L810.35 207.23M820.37 211.18L812.78 205.76M835.44 229.47L813.05 242.99M813.05 242.99L805.48 237.56M815.48 241.53L807.91 236.09M817.92 240.06L810.34 234.62M820.35 238.59L816.56 235.87M894.31 229.34L870.49 240.34M870.49 240.34L863.63 234.16M873.08 239.14L866.21 232.96M875.66 237.95L868.80 231.77M878.25 236.76L874.82 233.66M275.90 283.82L259.91 304.18M259.91 304.18L250.72 301.56M261.64 301.97L252.45 299.35M263.38 299.76L254.19 297.14M265.12 297.55L255.92 294.93M275.93 310.42L260.54 331.22M260.54 331.22L251.27 328.84M262.21 328.96L252.94 326.58M263.88 326.70L254.61 324.32M265.55 324.44L256.28 322.06M275.94 336.74L260.77 357.68M260.77 357.68L251.48 355.39M262.42 355.41L253.12 353.11M264.07 353.13L254.77 350.84M265.71 350.86L256.42 348.56M275.96 362.78L261.17 383.98M261.17 383.98L251.83 381.83M262.77 381.68L253.44 379.53M264.38 379.38L255.04 377.23M265.99 377.07L256.65 374.93M452.56 310.28L433.78 328.26M433.78 328.26L425.08 324.49M435.82 326.31L427.12 322.53M437.86 324.36L429.16 320.58M439.90 322.40L431.20 318.63M482.03 310.29L463.36 328.37M463.36 328.37L454.64 324.64M465.39 326.40L456.66 322.67M467.41 324.44L458.69 320.71M469.44 322.48L460.72 318.74M423.05 336.55L403.56 353.80M403.56 353.80L395.03 349.71M405.68 351.92L397.15 347.83M407.80 350.05L399.27 345.96M409.91 348.18L405.65 346.13M511.53 336.62L493.47 355.28M493.47 355.28L484.62 351.80M495.43 353.25L486.58 349.78M497.39 351.23L488.54 347.75M499.35 349.20L490.50 345.73M393.53 362.52L372.93 378.50M372.93 378.50L364.71 373.92M375.17 376.77L366.94 372.18M377.40 375.03L369.18 370.45M379.64 373.30L371.42 368.71M570.45 283.72L552.09 302.10M552.09 302.10L543.30 298.50M554.08 300.11L545.29 296.51M556.07 298.11L547.29 294.51M558.07 296.11L549.28 292.51M570.46 310.31L552.32 328.90M552.32 328.90L543.49 325.39M554.29 326.88L545.46 323.37M556.26 324.86L547.43 321.36M558.23 322.84L549.40 319.34M540.97 336.60L522.47 354.84M522.47 354.84L513.71 351.18M524.48 352.86L515.72 349.20M526.49 350.88L517.73 347.22M528.50 348.90L519.74 345.24M570.49 336.64L552.94 355.76M552.94 355.76L544.00 352.50M554.85 353.68L545.90 350.43M556.75 351.61L547.81 348.35M558.66 349.53L554.19 347.90M541.01 362.67L523.23 381.58M523.23 381.58L514.33 378.22M525.16 379.52L516.26 376.17M527.09 377.47L518.19 374.11M529.02 375.42L520.12 372.06M570.52 362.71L553.66 382.39M553.66 382.39L544.59 379.41M555.49 380.25L546.43 377.28M557.32 378.11L548.26 375.14M559.15 375.98L554.62 374.49M688.53 283.88L674.32 305.45M674.32 305.45L664.92 303.54M675.86 303.11L666.47 301.19M677.41 300.77L668.01 298.85M678.95 298.43L674.25 297.47M806.14 283.68L786.89 301.18M786.89 301.18L778.30 297.20M788.98 299.28L780.39 295.30M791.07 297.38L782.48 293.40M793.16 295.48L788.87 293.49M688.51 310.45L673.99 331.82M673.99 331.82L664.62 329.78M675.56 329.50L666.20 327.46M677.14 327.18L667.77 325.14M678.72 324.86L674.03 323.84M806.16 310.28L787.26 328.14M787.26 328.14L778.59 324.31M789.32 326.20L780.64 322.37M791.37 324.26L782.69 320.43M793.42 322.32L789.08 320.41M688.44 336.71L672.62 357.20M672.62 357.20L663.41 354.64M674.34 354.97L665.13 352.42M676.06 352.75L666.84 350.19M677.78 350.52L668.56 347.97M717.76 336.59L699.05 354.63M699.05 354.63L690.34 350.88M701.08 352.67L692.37 348.92M703.11 350.71L694.40 346.96M705.15 348.75L700.79 346.88M806.19 336.62L788.04 355.18M788.04 355.18L779.21 351.67M790.01 353.17L781.18 349.65M791.98 351.15L783.15 347.64M793.95 349.13L789.54 347.38M717.77 362.63L699.08 380.69M699.08 380.69L690.36 376.96M701.11 378.73L692.39 374.99M703.14 376.77L694.42 373.03M705.17 374.81L700.81 372.94M865.01 283.61L844.55 299.77M844.55 299.77L836.29 295.25M846.77 298.01L838.51 293.49M849.00 296.26L840.73 291.74M851.22 294.50L847.08 292.24M865.01 310.18L844.47 326.24M844.47 326.24L836.22 321.69M846.70 324.50L838.46 319.94M848.93 322.76L840.69 318.20M851.16 321.01L847.04 318.73M275.96 388.56L261.28 409.83M261.28 409.83L251.93 407.72M262.88 407.52L253.53 405.41M264.47 405.21L255.12 403.10M266.07 402.90L256.72 400.79M275.97 414.07L261.37 435.40M261.37 435.40L252.01 433.33M262.96 433.08L253.60 431.01M264.54 430.77L255.18 428.69M266.13 428.45L256.77 426.38M275.96 439.33L261.29 460.60M261.29 460.60L251.94 458.50M262.88 458.29L253.53 456.19M264.48 455.98L255.13 453.88M266.07 453.67L256.72 451.57M275.93 464.31L260.60 485.15M260.60 485.15L251.32 482.78M262.26 482.88L252.99 480.52M263.93 480.62L254.65 478.26M265.59 478.36L260.95 477.18M393.49 388.24L372.08 403.19M372.08 403.19L364.12 398.22M374.40 401.56L366.45 396.60M376.73 399.94L368.77 394.98M379.05 398.32L371.10 393.35M393.47 413.72L371.63 428.07M371.63 428.07L363.83 422.91M374.00 426.51L366.20 421.35M376.37 424.96L368.57 419.79M378.74 423.40L370.94 418.23M422.94 463.99L401.14 478.40M401.14 478.40L393.32 473.25M403.50 476.83L395.69 471.69M405.87 475.27L398.06 470.12M408.24 473.70L404.33 471.13M541.08 388.50L524.77 408.62M524.77 408.62L515.63 405.87M526.54 406.43L517.40 403.68M528.31 404.25L519.17 401.50M530.09 402.06L525.51 400.69M570.62 388.55L555.75 409.69M555.75 409.69L546.42 407.51M557.36 407.40L548.04 405.22M558.98 405.10L549.65 402.92M560.59 402.81L555.93 401.71M541.13 414.04L525.72 434.82M525.72 434.82L516.45 432.43M527.39 432.57L518.13 430.17M529.07 430.31L519.80 427.92M530.74 428.05L526.11 426.86M570.67 414.09L556.65 435.78M556.65 435.78L547.24 433.93M558.17 433.42L548.76 431.57M559.69 431.07L550.28 429.22M561.22 428.71L556.51 427.79M541.14 439.31L526.03 460.29M526.03 460.29L516.73 458.02M527.67 458.02L518.37 455.74M529.31 455.74L520.01 453.46M530.95 453.46L526.30 452.32M570.70 439.37L557.28 461.40M557.28 461.40L547.81 459.79M558.73 459.01L549.27 457.39M560.19 456.62L550.73 455.00M561.65 454.23L556.92 453.42M688.33 413.94L670.34 432.66M670.34 432.66L661.48 429.22M672.30 430.63L663.43 427.18M674.25 428.59L665.39 425.15M676.20 426.56L667.34 423.12M305.55 513.70L293.21 536.32M293.21 536.32L283.67 535.11M294.55 533.87L285.01 532.66M295.89 531.41L286.35 530.20M297.23 528.95L292.46 528.35M334.80 537.85L318.19 557.73M318.19 557.73L309.08 554.86M319.99 555.57L310.89 552.70M321.79 553.42L312.69 550.54M323.60 551.26L319.05 549.82M364.23 537.82L346.89 557.11M346.89 557.11L337.91 553.94M348.78 555.02L339.79 551.85M350.66 552.92L341.68 549.75M352.54 550.83L348.05 549.24M422.99 488.82L402.17 504.54M402.17 504.54L394.02 499.86M404.43 502.84L396.28 498.15M406.69 501.13L398.54 496.45M408.95 499.42L404.87 497.08M393.63 513.46L374.91 531.50M374.91 531.50L366.20 527.75M376.94 529.54L368.23 525.79M378.97 527.58L370.26 523.83M381.01 525.62L372.29 521.87M423.04 513.41L403.20 530.27M403.20 530.27L394.76 526.03M405.35 528.44L396.91 524.20M407.51 526.61L399.07 522.37M409.66 524.78L405.44 522.66M393.65 537.78L375.43 556.29M375.43 556.29L366.61 552.75M377.41 554.28L368.59 550.74M379.39 552.27L370.57 548.73M381.36 550.26L376.96 548.49"/>
<path stroke="#00ffd7" d="M305.15 60.34L282.78 78.65M282.78 78.65L274.43 74.26M284.97 76.85L276.62 72.47M287.16 75.06L278.81 70.68M289.35 73.27L281.00 68.88M291.54 71.48L287.37 69.28M334.56 60.26L310.83 76.88M310.83 76.88L302.86 71.93M313.15 75.25L305.19 70.30M315.48 73.63L307.51 68.68M317.80 72.00L309.83 67.05M320.12 70.37L316.14 67.90M364.09 60.35L341.90 78.85M341.90 78.85L333.51 74.54M344.07 77.04L335.68 72.73M346.24 75.23L337.85 70.92M348.42 73.42L340.02 69.10M350.59 71.61L346.39 69.45M334.57 89.29L318.70 100.92M364.09 89.35L341.85 107.80M341.85 107.80L333.47 103.47M344.03 106.00L335.64 101.66M346.20 104.19L337.82 99.86M348.38 102.39L340.00 98.05M350.56 100.58L346.37 98.41M334.60 118.00L319.05 130.03M364.09 118.03L341.72 136.34M341.72 136.34L333.37 131.96M343.91 134.55L335.56 130.17M346.10 132.76L337.75 128.37M348.29 130.97L339.94 126.58M350.48 129.17L346.30 126.98M334.60 146.36L319.08 158.44M364.07 146.37L341.45 164.38M341.45 164.38L333.16 159.89M343.66 162.62L335.38 158.13M345.88 160.85L337.59 156.36M348.09 159.09L339.81 154.60M350.31 157.33L346.16 155.08M393.54 60.32L378.14 72.53M393.56 89.36L378.53 102.00M393.60 118.07L379.03 131.21M393.63 146.47L379.53 160.07M511.40 146.36L495.85 158.39M540.91 60.36L518.96 79.14M518.96 79.14L510.50 74.92M521.11 77.30L512.65 73.08M523.25 75.46L514.80 71.25M525.40 73.62L516.95 69.41M527.55 71.79L523.32 69.68M540.91 89.37L518.98 108.18M518.98 108.18L510.52 103.97M521.13 106.34L512.67 102.13M523.28 104.50L514.82 100.29M525.42 102.65L516.96 98.45M527.57 100.81L523.34 98.71M540.91 118.05L519.02 136.90M519.02 136.90L510.55 132.70M521.16 135.05L512.69 130.86M523.30 133.21L514.84 129.01M525.45 131.36L516.98 127.17M527.59 129.52L523.36 127.42M540.90 146.40L518.84 165.06M518.84 165.06L510.41 160.79M521.00 163.23L512.57 158.97M523.16 161.40L514.73 157.14M525.32 159.58L516.89 155.31M527.48 157.75L523.26 155.62M806.11 60.35L784.06 79.03M784.06 79.03L775.63 74.77M786.22 77.20L777.79 72.94M788.38 75.37L779.95 71.12M790.53 73.54L782.10 69.29M792.69 71.72L788.48 69.59M806.10 89.35L783.85 107.80M783.85 107.80L775.47 103.47M786.03 106.00L777.65 101.66M788.21 104.19L779.82 99.85M790.38 102.38L782.00 98.05M792.56 100.58L788.37 98.41M923.88 89.24L907.46 100.13M894.39 117.89L877.66 128.33M923.83 117.85L898.64 132.29M898.64 132.29L891.20 126.70M901.10 130.88L893.66 125.28M903.57 129.47L896.13 123.87M906.03 128.05L898.60 122.46M908.50 126.64L904.78 123.84M894.37 146.22L869.29 160.85M869.29 160.85L861.80 155.30M871.74 159.42L864.26 153.87M874.20 157.98L866.71 152.44M876.65 156.55L869.17 151.01M879.11 155.12L875.37 152.35M364.07 174.42L341.33 192.29M341.33 192.29L333.07 187.75M343.55 190.54L335.30 186.00M345.78 188.79L337.53 184.25M348.01 187.04L339.75 182.50M350.23 185.29L346.11 183.02M364.07 202.15L341.28 219.98M341.28 219.98L333.04 215.42M343.52 218.23L335.27 213.68M345.75 216.49L337.50 211.93M347.98 214.74L339.73 210.19M350.21 213.00L346.08 210.72M364.06 229.59L341.24 247.36M341.24 247.36L333.01 242.78M343.47 245.62L335.24 241.04M345.71 243.88L337.48 239.31M347.94 242.14L339.71 237.57M350.17 240.40L346.06 238.12M364.07 256.75L341.33 274.63M341.33 274.63L333.08 270.09M343.56 272.88L335.31 268.34M345.79 271.13L337.53 266.59M348.01 269.38L339.76 264.84M350.24 267.62L346.11 265.36M393.63 174.52L379.56 188.16M511.40 174.41L495.82 186.40M393.63 202.25L372.83 222.23M372.83 222.23L364.12 218.47M374.87 220.28L366.16 216.51M376.90 218.32L368.20 214.56M378.94 216.37L370.23 212.60M380.97 214.41L376.62 212.53M511.40 202.15L495.86 214.19M393.62 229.69L372.63 249.47M372.63 249.47L363.96 245.63M374.68 247.54L366.02 243.70M376.74 245.60L368.07 241.76M378.79 243.66L370.12 239.82M380.85 241.73L376.51 239.81M511.39 229.59L495.81 241.57M393.62 256.84L372.73 276.72M372.73 276.72L364.04 272.92M374.77 274.77L366.09 270.97M376.82 272.83L368.13 269.03M378.86 270.88L370.18 267.08M380.91 268.94L376.57 267.03M423.10 256.85L409.07 270.52M452.55 256.83L431.50 276.56M431.50 276.56L422.84 272.70M433.56 274.63L424.90 270.76M435.62 272.70L426.97 268.83M437.68 270.77L429.03 266.90M439.74 268.83L435.41 266.90M481.99 256.80L460.31 275.88M460.31 275.88L451.79 271.77M462.43 274.01L453.92 269.91M464.56 272.15L456.04 268.04M466.68 270.28L458.16 266.17M468.80 268.41L464.54 266.36M511.43 256.77L489.14 275.18M489.14 275.18L480.77 270.83M491.32 273.38L482.95 269.03M493.51 271.58L485.13 267.22M495.69 269.77L487.31 265.42M497.87 267.97L493.68 265.80M540.91 174.45L518.91 193.18M518.91 193.18L510.47 188.95M521.06 191.35L512.62 187.11M523.21 189.52L514.77 185.28M525.37 187.68L516.93 183.45M527.52 185.85L523.30 183.73M894.34 174.23L868.73 187.95M868.73 187.95L861.47 182.16M871.24 186.61L863.98 180.82M873.74 185.27L866.49 179.47M876.25 183.92L868.99 178.13M878.76 182.58L875.13 179.68M864.96 202.09L848.75 213.27M864.96 229.54L841.17 246.08M841.17 246.08L833.23 241.10M843.50 244.46L835.56 239.48M845.83 242.84L837.88 237.86M848.16 241.22L840.21 236.25M850.49 239.60L846.51 237.11M334.62 283.63L319.40 296.05M334.61 310.19L319.23 322.43M334.58 336.47L318.85 348.26M334.57 362.48L318.60 373.99M423.09 283.70L402.20 303.58M402.20 303.58L393.51 299.78M404.24 301.64L395.56 297.84M406.29 299.69L397.60 295.89M408.33 297.75L399.65 293.94M410.38 295.80L406.03 293.90M511.44 283.64L489.40 302.33M489.40 302.33L480.96 298.07M491.55 300.50L483.12 296.24M493.71 298.67L485.28 294.41M495.87 296.84L487.44 292.59M498.03 295.01L493.81 292.88M364.05 413.78L348.26 425.52M334.63 439.09L319.52 451.64M364.09 439.09L348.88 451.52M334.67 464.15L320.19 477.38M364.15 464.16L343.08 483.87M343.08 483.87L334.43 480.00M345.14 481.94L336.49 478.07M347.20 480.01L338.55 476.14M349.26 478.08L340.61 474.21M351.33 476.15L347.00 474.22"/>
<polygon points="318.70,100.92 310.14,95.84 322.32,98.27" fill="#00ffd7" stroke="#00ffd7" stroke-width="0.8"/>
<polygon points="319.05,130.03 310.34,125.16 322.59,127.29" fill="#00ffd7" stroke="#00ffd7" stroke-width="0.8"/>
<polygon points="319.08,158.44 310.36,153.59 322.62,155.68" fill="#00ffd7" stroke="#00ffd7" stroke-width="0.8"/>
<polygon points="378.14,72.53 369.37,67.76 381.65,69.75" fill="#00ffd7" stroke="#00ffd7" stroke-width="0.8"/>
<polygon points="378.53,102.00 369.62,97.46 381.96,99.12" fill="#00ffd7" stroke="#00ffd7" stroke-width="0.8"/>
<polygon points="379.03,131.21 369.94,126.95 382.35,128.22" fill="#00ffd7" stroke="#00ffd7" stroke-width="0.8"/>
<polygon points="379.53,160.07 370.29,156.10 382.74,156.97" fill="#00ffd7" stroke="#00ffd7" stroke-width="0.8"/>
<polygon points="495.85,158.39 487.14,153.52 499.39,155.65" fill="#00ffd7" stroke="#00ffd7" stroke-width="0.8"/>
<polygon points="907.46,100.13 899.17,94.69 911.20,97.65" fill="#00ffd7" stroke="#00ffd7" stroke-width="0.8"/>
<polygon points="877.66,128.33 869.54,122.67 881.47,125.95" fill="#00ffd7" stroke="#00ffd7" stroke-width="0.8"/>
<polygon points="379.56,188.16 370.31,184.21 382.77,185.05" fill="#00ffd7" stroke="#00ffd7" stroke-width="0.8"/>
<polygon points="495.82,186.40 487.12,181.51 499.37,183.67" fill="#00ffd7" stroke="#00ffd7" stroke-width="0.8"/>
<polygon points="495.86,214.19 487.14,209.32 499.40,211.44" fill="#00ffd7" stroke="#00ffd7" stroke-width="0.8"/>
<polygon points="495.81,241.57 487.12,236.67 499.36,238.84" fill="#00ffd7" stroke="#00ffd7" stroke-width="0.8"/>
<polygon points="409.07,270.52 399.81,266.59 412.27,267.41" fill="#00ffd7" stroke="#00ffd7" stroke-width="0.8"/>
<polygon points="848.75,213.27 840.35,207.97 852.44,210.72" fill="#00ffd7" stroke="#00ffd7" stroke-width="0.8"/>
<polygon points="319.40,296.05 310.55,291.39 322.87,293.22" fill="#00ffd7" stroke="#00ffd7" stroke-width="0.8"/>
<polygon points="319.23,322.43 310.45,317.67 322.74,319.64" fill="#00ffd7" stroke="#00ffd7" stroke-width="0.8"/>
<polygon points="318.85,348.26 310.22,343.27 322.43,345.58" fill="#00ffd7" stroke="#00ffd7" stroke-width="0.8"/>
<polygon points="318.60,373.99 310.08,368.85 322.24,371.37" fill="#00ffd7" stroke="#00ffd7" stroke-width="0.8"/>
<polygon points="348.26,425.52 339.66,420.49 351.86,422.84" fill="#00ffd7" stroke="#00ffd7" stroke-width="0.8"/>
<polygon points="319.52,451.64 310.63,447.05 322.96,448.78" fill="#00ffd7" stroke="#00ffd7" stroke-width="0.8"/>
<polygon points="348.88,451.52 340.03,446.87 352.35,448.69" fill="#00ffd7" stroke="#00ffd7" stroke-width="0.8"/>
<polygon points="320.19,477.38 311.07,473.18 323.49,474.36" fill="#00ffd7" stroke="#00ffd7" stroke-width="0.8"/>
<path stroke="#00c0ff" d="M305.17 89.37L283.22 108.14M283.22 108.14L274.76 103.92M285.37 106.31L276.91 102.09M287.52 104.47L279.06 100.25M289.66 102.63L281.21 98.41M291.81 100.79L287.59 98.68M305.18 118.05L283.33 136.95M283.33 136.95L274.85 132.77M285.47 135.10L276.99 130.92M287.61 133.25L279.13 129.08M289.75 131.40L281.27 127.23M291.88 129.55L287.65 127.46M305.20 146.44L283.82 165.83M283.82 165.83L275.24 161.84M285.91 163.93L277.33 159.94M288.00 162.03L279.42 158.04M290.10 160.13L281.51 156.14M292.19 158.24L287.90 156.24M570.49 60.47L553.04 79.67M553.04 79.67L544.08 76.45M554.93 77.58L545.97 74.37M556.83 75.50L547.87 72.28M558.73 73.42L549.76 70.20M570.48 89.47L552.83 108.50M552.83 108.50L543.90 105.20M554.75 106.43L545.82 103.13M556.66 104.37L547.74 101.06M558.58 102.30L549.65 99.00M688.44 60.54L672.60 81.01M672.60 81.01L663.39 78.44M674.32 78.79L665.11 76.22M676.04 76.56L666.83 74.00M677.76 74.34L668.55 71.78M776.81 60.51L760.33 80.50M760.33 80.50L751.21 77.68M762.12 78.33L753.00 75.51M763.91 76.16L754.79 73.34M765.70 73.99L756.58 71.17M688.46 89.56L672.98 110.29M672.98 110.29L663.72 107.87M674.66 108.04L665.40 105.62M676.34 105.79L667.08 103.37M678.02 103.53L668.76 101.12M776.85 89.55L761.10 110.09M761.10 110.09L751.88 107.57M762.81 107.86L753.59 105.34M764.52 105.63L755.30 103.11M766.23 103.40L757.01 100.88M806.11 118.05L784.10 136.76M784.10 136.76L775.66 132.52M786.25 134.93L777.81 130.69M788.41 133.10L779.97 128.85M790.56 131.26L782.12 127.02M792.72 129.43L788.50 127.31M806.12 146.42L784.34 165.39M784.34 165.39L775.85 161.24M786.48 163.53L777.98 159.38M788.61 161.68L780.11 157.53M790.74 159.82L782.24 155.67M792.87 157.96L788.62 155.89M835.46 60.20L810.86 75.59M810.86 75.59L803.19 70.26M813.27 74.08L805.60 68.75M815.67 72.57L808.00 67.25M818.08 71.07L810.41 65.74M820.49 69.56L816.65 66.90M953.32 60.20L931.14 74.04M931.14 74.04L923.47 68.71M933.54 72.54L925.88 67.21M935.95 71.04L928.29 65.70M938.36 69.54L930.70 64.20M835.45 89.20L810.67 104.30M810.67 104.30L803.07 98.89M813.09 102.82L805.49 97.41M815.52 101.34L807.92 95.93M817.94 99.87L810.34 94.46M820.37 98.39L816.57 95.68M835.42 117.84L810.07 132.01M810.07 132.01L802.70 126.34M812.55 130.63L805.18 124.96M815.03 129.24L807.66 123.57M817.51 127.85L810.14 122.18M819.99 126.46L816.31 123.63M835.43 146.22L812.82 159.39M812.82 159.39L805.34 153.84M815.27 157.96L807.79 152.41M817.73 156.53L810.25 150.98M820.18 155.10L812.71 149.55M305.20 174.49L286.06 192.11M286.06 192.11L277.45 188.17M288.14 190.19L279.53 186.26M290.22 188.28L281.61 184.35M292.30 186.37L283.68 182.43M305.21 202.24L286.18 219.96M286.18 219.96L277.54 216.08M288.25 218.04L279.60 214.15M290.31 216.11L281.67 212.23M292.38 214.19L283.74 210.30M305.21 229.68L286.27 247.50M286.27 247.50L277.61 243.65M288.33 245.56L279.67 241.71M290.38 243.63L281.72 239.78M292.44 241.69L283.78 237.84M305.22 256.84L286.46 274.83M286.46 274.83L277.76 271.06M288.50 272.88L279.80 269.11M290.53 270.93L281.83 267.15M292.57 268.97L283.87 265.20M540.91 202.20L518.94 220.96M518.94 220.96L510.49 216.74M521.09 219.13L512.64 214.90M523.24 217.29L514.79 213.07M525.39 215.45L516.94 211.23M527.54 213.62L523.32 211.50M540.90 229.63L518.82 248.26M518.82 248.26L510.39 243.99M520.98 246.44L512.56 242.17M523.14 244.62L514.72 240.34M525.30 242.79L516.88 238.52M527.46 240.97L523.25 238.83M540.90 256.78L518.76 275.34M518.76 275.34L510.35 271.05M520.92 273.53L512.52 269.23M523.09 271.71L514.68 267.41M525.26 269.89L516.85 265.60M527.43 268.07L523.22 265.93M806.13 174.48L786.76 191.86M786.76 191.86L778.20 187.82M788.87 189.97L780.31 185.94M790.97 188.08L782.41 184.05M793.07 186.20L784.51 182.16M835.43 174.27L812.82 187.45M812.82 187.45L805.34 181.90M815.28 186.02L807.80 180.47M817.73 184.58L810.25 179.04M820.19 183.15L812.71 177.61M894.32 201.92L870.72 213.36M870.72 213.36L863.73 207.30M873.28 212.12L866.29 206.06M875.85 210.87L868.86 204.81M878.41 209.63L871.42 203.57M864.99 256.72L844.08 272.33M844.08 272.33L835.95 267.60M846.35 270.63L838.22 265.91M848.62 268.94L840.49 264.21M850.89 267.24L842.77 262.52M305.23 283.71L286.59 301.82M286.59 301.82L277.86 298.10M288.61 299.85L279.88 296.13M290.64 297.89L281.91 294.17M292.66 295.92L283.93 292.20M364.06 283.60L341.23 301.36M341.23 301.36L333.00 296.79M343.47 299.62L335.24 295.05M345.70 297.88L337.47 293.31M347.94 296.15L339.71 291.57M350.17 294.41L346.06 292.12M305.22 310.28L286.42 328.23M286.42 328.23L277.73 324.44M288.46 326.28L279.77 322.49M290.50 324.33L281.81 320.54M292.54 322.38L283.85 318.60M364.06 310.18L341.14 327.83M341.14 327.83L332.94 323.22M343.39 326.11L335.18 321.50M345.63 324.38L337.43 319.77M347.87 322.65L339.67 318.04M350.12 320.92L346.01 318.62M305.23 336.59L286.55 354.67M286.55 354.67L277.83 350.93M288.58 352.70L279.86 348.97M290.61 350.74L281.89 347.01M292.64 348.78L283.91 345.04M364.05 336.46L340.78 353.69M340.78 353.69L332.67 348.93M343.06 352.00L334.95 347.25M345.34 350.31L337.23 345.56M347.61 348.63L339.51 343.87M349.89 346.94L345.84 344.56M305.23 362.63L286.58 380.73M286.58 380.73L277.85 377.01M288.61 378.77L279.88 375.04M290.63 376.80L281.90 373.08M292.66 374.83L283.93 371.11M364.03 362.48L340.46 379.31M340.46 379.31L332.45 374.43M342.77 377.66L334.76 372.78M345.08 376.02L337.06 371.13M347.38 374.37L339.37 369.49M349.69 372.72L345.68 370.28M393.61 283.69L372.54 303.40M372.54 303.40L363.89 299.53M374.61 301.47L365.96 297.60M376.67 299.54L368.02 295.67M378.73 297.61L370.08 293.74M380.79 295.68L376.47 293.75M452.56 283.70L431.78 303.70M431.78 303.70L423.07 299.94M433.81 301.74L425.10 297.98M435.85 299.78L427.14 296.03M437.88 297.83L429.17 294.07M439.92 295.87L435.56 293.99M482.01 283.69L460.89 303.34M460.89 303.34L452.25 299.45M462.95 301.42L454.32 297.52M465.02 299.49L456.38 295.60M467.09 297.57L458.45 293.68M469.16 295.65L464.84 293.70M393.59 310.25L374.24 327.65M374.24 327.65L365.68 323.62M376.35 325.76L367.78 321.73M378.45 323.87L369.88 319.84M380.55 321.98L371.98 317.96M423.07 310.26L403.97 327.92M403.97 327.92L395.35 324.00M406.05 326.00L397.42 322.08M408.12 324.08L399.50 320.17M410.20 322.17L401.57 318.25M511.48 310.27L490.45 330.02M490.45 330.02L481.79 326.16M492.51 328.08L483.85 324.23M494.57 326.15L485.91 322.30M496.63 324.22L487.97 320.36M498.69 322.29L494.36 320.36M393.57 336.54L373.84 353.52M373.84 353.52L365.37 349.32M375.98 351.67L367.51 347.48M378.12 349.83L369.66 345.63M380.27 347.99L371.80 343.79M540.90 283.64L518.81 302.27M518.81 302.27L510.39 297.99M520.97 300.44L512.55 296.17M523.14 298.62L514.72 294.35M525.30 296.80L516.88 292.52M527.46 294.97L523.25 292.84M540.94 310.26L521.79 327.86M521.79 327.86L513.18 323.92M523.87 325.95L515.25 322.01M525.95 324.04L517.33 320.10M528.03 322.13L519.41 318.19M688.37 362.69L671.15 382.08M671.15 382.08L662.14 378.95M673.02 379.97L664.01 376.85M674.89 377.87L665.88 374.74M676.76 375.76L667.76 372.64M305.26 388.43L285.27 409.17M285.27 409.17L276.42 405.72M287.23 407.14L278.37 403.68M289.19 405.11L280.33 401.65M291.14 403.08L282.29 399.62M293.10 401.05L288.67 399.32M364.03 388.24L340.36 404.95M340.36 404.95L332.38 400.02M342.68 403.31L334.69 398.39M344.99 401.68L337.01 396.75M347.31 400.04L339.33 395.12M349.63 398.41L345.64 395.94M305.31 413.98L286.43 435.68M286.43 435.68L277.39 432.64M288.28 433.56L279.24 430.51M290.13 431.43L281.09 428.39M291.97 429.31L282.94 426.27M293.82 427.18L289.30 425.66M305.42 439.32L288.80 462.70M288.80 462.70L279.48 460.48M290.43 460.41L281.11 458.19M292.05 458.12L282.74 455.90M293.68 455.83L284.36 453.61M295.31 453.54L290.65 452.43M305.47 464.36L291.49 486.07M291.49 486.07L282.08 484.24M293.01 483.71L283.59 481.88M294.53 481.36L285.11 479.53M296.05 479.00L286.63 477.17M393.48 438.99L371.83 453.61M371.83 453.61L363.96 448.54M374.18 452.03L366.31 446.95M376.53 450.44L368.66 445.36M378.88 448.85L371.01 443.78M393.54 464.08L370.94 482.12M370.94 482.12L362.65 477.64M373.15 480.36L364.86 475.87M375.37 478.59L367.08 474.11M377.58 476.82L369.29 472.34M379.79 475.06L375.65 472.82M688.35 388.45L670.78 407.54M670.78 407.54L661.84 404.27M672.69 405.47L663.75 402.20M674.60 403.39L665.66 400.12M676.51 401.32L667.57 398.05M305.51 489.15L292.37 511.35M292.37 511.35L282.89 509.84M293.80 508.94L284.31 507.43M295.23 506.53L285.74 505.02M296.65 504.12L287.17 502.61M334.74 488.98L314.93 509.89M314.93 509.89L306.04 506.50M316.87 507.84L307.98 504.46M318.81 505.80L309.92 502.41M320.75 503.75L311.86 500.36M322.69 501.70L318.24 500.01M364.18 488.96L343.94 509.47M343.94 509.47L335.13 505.92M345.92 507.46L337.11 503.91M347.90 505.45L339.09 501.90M349.88 503.45L341.07 499.89M351.87 501.44L347.46 499.66M334.79 513.55L318.02 533.31M318.02 533.31L308.94 530.37M319.84 531.17L310.76 528.23M321.66 529.02L312.59 526.08M323.48 526.87L314.41 523.94M364.22 513.52L346.69 532.65M346.69 532.65L337.74 529.40M348.60 530.57L339.65 527.32M350.50 528.50L341.55 525.25M352.40 526.42L343.45 523.17M393.60 488.92L374.44 506.50M374.44 506.50L365.83 502.56M376.52 504.59L367.91 500.65M378.60 502.68L369.99 498.74M380.68 500.77L372.07 496.83"/>
<path stroke="#00ffa0" d="M423.01 60.33L405.51 74.39M411.21 69.81L407.06 67.58M452.46 60.31L434.72 74.08M440.50 69.60L436.39 67.30M481.91 60.28L463.74 73.52M469.66 69.21L465.62 66.81M511.41 60.32L495.98 72.51M423.02 89.34L405.62 103.52M411.28 98.90L407.11 96.70M452.48 89.34L434.95 103.36M440.66 98.80L436.51 96.56M481.91 89.29L463.80 102.61M469.70 98.28L465.66 95.89M511.40 89.33L495.93 101.45M423.04 118.05L405.94 132.57M411.51 127.84L407.29 125.72M452.50 118.04L435.29 132.44M440.89 127.75L436.69 125.60M481.93 117.99L464.07 131.63M469.89 127.19L465.79 124.87M511.41 118.01L496.05 130.27M423.06 146.43L406.36 161.38M411.80 156.51L407.52 154.49M452.51 146.41L435.54 161.08M441.07 156.30L436.83 154.21M481.94 146.37L464.25 160.21M470.01 155.70L465.89 153.42M923.91 60.28L908.05 71.92M894.41 89.24L877.92 100.03M334.62 174.44L319.50 186.97M334.63 202.18L319.53 214.75M334.62 229.62L319.48 242.13M334.62 256.77L319.50 269.31M423.08 174.50L406.70 189.78M412.03 184.80L407.71 182.86M452.52 174.47L435.65 189.24M441.14 184.43L436.89 182.37M481.93 174.41L466.39 186.45M423.10 202.26L409.02 215.89M452.52 202.21L437.75 215.14M481.96 202.18L466.78 214.65M423.09 229.69L408.96 243.28M452.52 229.66L437.86 242.69M481.97 229.63L466.97 242.30M334.57 388.25L318.58 399.73M334.58 413.78L318.83 425.56"/>
<polygon points="405.51,74.39 396.71,69.66 409.00,71.58" fill="#00ffa0" stroke="#00ffa0" stroke-width="0.8"/>
<polygon points="434.72,74.08 426.00,69.22 438.26,71.33" fill="#00ffa0" stroke="#00ffa0" stroke-width="0.8"/>
<polygon points="463.74,73.52 455.19,68.42 467.37,70.88" fill="#00ffa0" stroke="#00ffa0" stroke-width="0.8"/>
<polygon points="495.98,72.51 487.22,67.72 499.50,69.73" fill="#00ffa0" stroke="#00ffa0" stroke-width="0.8"/>
<polygon points="405.62,103.52 396.78,98.85 409.09,100.69" fill="#00ffa0" stroke="#00ffa0" stroke-width="0.8"/>
<polygon points="434.95,103.36 426.16,98.63 438.45,100.57" fill="#00ffa0" stroke="#00ffa0" stroke-width="0.8"/>
<polygon points="463.80,102.61 455.23,97.55 467.42,99.95" fill="#00ffa0" stroke="#00ffa0" stroke-width="0.8"/>
<polygon points="495.93,101.45 487.19,96.63 499.46,98.69" fill="#00ffa0" stroke="#00ffa0" stroke-width="0.8"/>
<polygon points="405.94,132.57 397.00,128.07 409.35,129.67" fill="#00ffa0" stroke="#00ffa0" stroke-width="0.8"/>
<polygon points="435.29,132.44 426.38,127.87 438.72,129.56" fill="#00ffa0" stroke="#00ffa0" stroke-width="0.8"/>
<polygon points="464.07,131.63 455.40,126.71 467.64,128.91" fill="#00ffa0" stroke="#00ffa0" stroke-width="0.8"/>
<polygon points="496.05,130.27 487.26,125.52 499.55,127.47" fill="#00ffa0" stroke="#00ffa0" stroke-width="0.8"/>
<polygon points="406.36,161.38 397.29,157.09 409.69,158.40" fill="#00ffa0" stroke="#00ffa0" stroke-width="0.8"/>
<polygon points="435.54,161.08 426.56,156.65 438.93,158.15" fill="#00ffa0" stroke="#00ffa0" stroke-width="0.8"/>
<polygon points="464.25,160.21 455.51,155.38 467.78,157.45" fill="#00ffa0" stroke="#00ffa0" stroke-width="0.8"/>
<polygon points="908.05,71.92 899.48,66.84 911.67,69.27" fill="#00ffa0" stroke="#00ffa0" stroke-width="0.8"/>
<polygon points="877.92,100.03 869.66,94.54 881.68,97.57" fill="#00ffa0" stroke="#00ffa0" stroke-width="0.8"/>
<polygon points="319.50,186.97 310.62,182.36 322.94,184.11" fill="#00ffa0" stroke="#00ffa0" stroke-width="0.8"/>
<polygon points="319.53,214.75 310.64,210.17 322.97,211.88" fill="#00ffa0" stroke="#00ffa0" stroke-width="0.8"/>
<polygon points="319.48,242.13 310.61,237.52 322.93,239.28" fill="#00ffa0" stroke="#00ffa0" stroke-width="0.8"/>
<polygon points="319.50,269.31 310.62,264.71 322.95,266.45" fill="#00ffa0" stroke="#00ffa0" stroke-width="0.8"/>
<polygon points="406.70,189.78 397.54,185.66 409.97,186.73" fill="#00ffa0" stroke="#00ffa0" stroke-width="0.8"/>
<polygon points="435.65,189.24 426.63,184.86 439.02,186.29" fill="#00ffa0" stroke="#00ffa0" stroke-width="0.8"/>
<polygon points="466.39,186.45 457.68,181.58 469.93,183.70" fill="#00ffa0" stroke="#00ffa0" stroke-width="0.8"/>
<polygon points="409.02,215.89 399.77,211.93 412.23,212.78" fill="#00ffa0" stroke="#00ffa0" stroke-width="0.8"/>
<polygon points="437.75,215.14 428.73,210.76 441.12,212.19" fill="#00ffa0" stroke="#00ffa0" stroke-width="0.8"/>
<polygon points="466.78,214.65 457.92,210.01 470.24,211.80" fill="#00ffa0" stroke="#00ffa0" stroke-width="0.8"/>
<polygon points="408.96,243.28 399.73,239.29 412.18,240.18" fill="#00ffa0" stroke="#00ffa0" stroke-width="0.8"/>
<polygon points="437.86,242.69 428.81,238.38 441.20,239.72" fill="#00ffa0" stroke="#00ffa0" stroke-width="0.8"/>
<polygon points="466.97,242.30 458.04,237.78 470.39,239.42" fill="#00ffa0" stroke="#00ffa0" stroke-width="0.8"/>
<polygon points="318.58,399.73 310.07,394.57 322.22,397.11" fill="#00ffa0" stroke="#00ffa0" stroke-width="0.8"/>
<polygon points="318.83,425.56 310.21,420.55 322.42,422.87" fill="#00ffa0" stroke="#00ffa0" stroke-width="0.8"/>
<path stroke="#00ff7d" d="M865.05 60.36L848.06 75.00M853.59 70.23L849.35 68.14M894.42 60.24L875.79 72.86M881.85 68.75L877.91 66.22M865.04 89.36L847.95 103.89M853.51 99.16L849.30 97.04M865.01 118.02L847.47 132.03M853.19 127.47L849.04 125.23M865.00 146.35L847.12 159.96M852.94 155.53L848.85 153.20M864.97 174.36L846.62 187.36M852.59 183.13L848.60 180.68"/>
<polygon points="848.06,75.00 839.08,70.56 851.45,72.08" fill="#00ff7d" stroke="#00ff7d" stroke-width="0.8"/>
<polygon points="875.79,72.86 867.44,67.49 879.50,70.34" fill="#00ff7d" stroke="#00ff7d" stroke-width="0.8"/>
<polygon points="847.95,103.89 839.00,99.39 851.36,100.99" fill="#00ff7d" stroke="#00ff7d" stroke-width="0.8"/>
<polygon points="847.47,132.03 838.68,127.28 850.97,129.23" fill="#00ff7d" stroke="#00ff7d" stroke-width="0.8"/>
<polygon points="847.12,159.96 838.45,155.03 850.69,157.24" fill="#00ff7d" stroke="#00ff7d" stroke-width="0.8"/>
<polygon points="846.62,187.36 838.14,182.16 850.28,184.77" fill="#00ff7d" stroke="#00ff7d" stroke-width="0.8"/>
<path stroke="#0028ff" d="M128.07 201.64L105.20 206.86M105.20 206.86L99.93 199.49M107.99 206.22L102.71 198.85M110.78 205.58L108.14 201.90M98.57 228.67L75.17 226.69M75.17 226.69L72.67 218.18M78.02 226.93L75.53 218.42M80.88 227.17L79.63 222.92M128.09 229.16L105.65 235.90M105.65 235.90L99.83 228.88M108.39 235.08L102.57 228.06M111.12 234.26L108.21 230.75M98.58 255.78L78.10 253.56M78.10 253.56L75.83 245.00M80.94 253.87L78.67 245.31M128.14 256.44L109.18 264.26M109.18 264.26L102.61 257.82M111.81 263.17L105.24 256.73M953.13 201.57L930.00 205.55M930.00 205.55L925.18 197.93M932.82 205.07L928.00 197.44M935.64 204.58L933.23 200.77M923.73 229.23L901.72 237.20M901.72 237.20L895.47 230.49M904.40 236.23L898.15 229.52M907.08 235.25L903.96 231.90M953.12 228.96L929.86 232.13M929.86 232.13L925.34 224.35M932.70 231.74L928.18 223.96M935.53 231.36L933.27 227.47M923.73 256.38L901.68 264.24M901.68 264.24L895.46 257.51M904.36 263.28L898.15 256.55M907.05 262.32L903.95 258.96M953.12 256.08L929.78 258.69M929.78 258.69L925.47 250.82M932.63 258.38L928.32 250.50M935.47 258.06L933.32 254.12M923.71 283.19L904.14 289.44M904.14 289.44L898.18 282.52M906.86 288.57L900.90 281.65M953.12 282.92L929.74 285.19M929.74 285.19L925.56 277.26M932.59 284.92L928.41 276.98M935.44 284.64L933.35 280.67M894.24 309.75L871.77 316.43M871.77 316.43L865.98 309.39M874.51 315.61L868.71 308.58M877.25 314.80L874.35 311.28M923.71 309.77L904.13 316.01M904.13 316.01L898.18 309.08M906.85 315.14L900.90 308.21M953.12 309.48L929.71 311.44M929.71 311.44L925.65 303.45M932.56 311.20L928.51 303.21M935.42 310.96L933.39 306.97M894.23 336.03L874.40 341.48M874.40 341.48L868.77 334.33M877.16 340.72L871.52 333.57M923.70 336.06L904.02 341.97M904.02 341.97L898.20 334.95M906.76 341.15L900.93 334.13M953.12 335.79L929.72 337.85M929.72 337.85L925.62 329.87M932.57 337.60L928.48 329.62M935.43 337.35L933.38 333.36M894.23 362.07L874.46 367.71M874.46 367.71L868.75 360.62M877.21 366.93L871.50 359.83M923.70 362.07L903.90 367.62M903.90 367.62L898.22 360.51M906.65 366.85L900.98 359.74M953.12 361.82L929.71 363.78M929.71 363.78L925.65 355.80M932.57 363.55L928.50 355.56M935.42 363.31L933.39 359.31M157.73 463.99L138.28 476.76M138.28 476.76L130.48 471.59M140.65 475.20L132.85 470.04M143.02 473.65L139.12 471.06M482.07 439.20L466.16 455.97M466.16 455.97L457.27 452.58M468.10 453.93L459.21 450.54M470.04 451.88L465.59 450.19M482.10 464.24L466.65 481.42M466.65 481.42L457.67 478.24M468.54 479.32L459.55 476.15M470.42 477.23L465.93 475.64M864.91 388.16L844.91 400.13M844.91 400.13L837.36 394.66M847.35 398.67L839.80 393.20M849.79 397.21L846.01 394.48M894.23 387.84L874.45 393.43M874.45 393.43L868.75 386.33M877.20 392.66L871.50 385.55M923.68 387.78L903.64 392.44M903.64 392.44L898.33 385.10M906.43 391.80L901.12 384.45M864.87 413.62L846.81 423.24M846.81 423.24L839.57 417.43M849.32 421.90L842.08 416.09M894.23 413.37L874.52 419.20M874.52 419.20L868.74 412.15M877.26 418.39L871.48 411.34M923.68 413.31L903.71 418.22M903.71 418.22L898.30 410.93M906.49 417.54L901.07 410.25M864.89 438.90L847.09 448.97M847.09 448.97L839.69 443.33M849.56 447.57L842.16 441.93M894.23 438.61L874.45 444.22M874.45 444.22L868.75 437.11M877.20 443.44L871.50 436.33M923.68 438.55L903.64 443.23M903.64 443.23L898.33 435.88M906.43 442.58L901.11 435.23M835.44 463.94L817.90 474.43M817.90 474.43L810.35 468.96M820.34 472.97L812.79 467.50M894.23 463.62L874.45 469.22M874.45 469.22L868.75 462.11M877.20 468.44L871.50 461.33M923.69 463.58L903.72 468.53M903.72 468.53L898.29 461.25M906.50 467.84L901.06 460.57M157.74 488.76L140.72 500.04M140.72 500.04L132.90 494.90M143.09 498.47L135.26 493.34M187.10 488.59L165.98 498.57M165.98 498.57L159.06 492.44M168.55 497.35L161.64 491.22M171.13 496.13L167.67 493.07M187.15 513.21L166.93 524.81M166.93 524.81L159.49 519.22M169.40 523.40L161.96 517.80M171.86 521.98L168.14 519.19M187.23 537.62L170.72 549.58M170.72 549.58L162.67 544.74M173.01 547.91L164.96 543.08M217.06 562.00L206.08 578.93M206.08 578.93L196.67 577.06M207.61 576.57L198.20 574.71M482.11 513.54L466.89 530.90M466.89 530.90L457.86 527.83M468.74 528.79L459.72 525.72M470.60 526.67L466.09 525.13M511.60 513.56L496.74 531.22M496.74 531.22L487.65 528.32M498.56 529.07L489.46 526.17M500.37 526.91L495.82 525.46M482.13 537.85L467.30 555.53M467.30 555.53L458.20 552.63M469.10 553.37L460.01 550.48M470.91 551.22L466.37 549.77M511.62 537.86L498.92 553.61M498.92 553.61L489.77 550.88M500.69 551.43L491.53 548.70M482.15 561.92L469.39 577.63M469.39 577.63L460.25 574.87M471.17 575.45L462.02 572.69M541.08 513.57L526.58 531.50M526.58 531.50L517.43 528.76M528.35 529.32L519.20 526.58M530.12 527.13L525.54 525.76M541.11 537.88L528.70 553.85M528.70 553.85L519.49 551.27M530.42 551.63L521.21 549.05M570.68 537.95L558.50 557.44M558.50 557.44L549.06 555.73M559.98 555.07L550.54 553.35M561.47 552.69L556.75 551.83M600.16 537.96L588.13 557.54M588.13 557.54L578.67 555.89M589.60 555.15L580.14 553.50M591.06 552.76L586.33 551.94M629.67 537.98L618.46 558.02M618.46 558.02L608.94 556.72M619.83 555.58L610.31 554.27M621.20 553.13L616.44 552.48M659.28 538.05L650.46 559.18M650.46 559.18L640.83 558.86M651.53 556.60L641.91 556.28M652.61 554.02L647.80 553.87M541.15 561.97L529.38 578.39M529.38 578.39L520.07 576.13M531.02 576.11L521.71 573.85M570.74 562.04L560.87 579.60M560.87 579.60L551.35 578.28M562.24 577.16L552.72 575.84M600.24 562.06L590.95 579.91M590.95 579.91L581.39 578.87M592.24 577.43L582.68 576.39M629.79 562.10L621.81 580.54M621.81 580.54L612.20 580.11M622.92 577.98L613.31 577.55M777.07 538.01L766.84 558.54M766.84 558.54L757.26 557.65M768.09 556.04L758.51 555.14M769.33 553.53L764.54 553.09M806.24 537.82L792.76 552.95M792.76 552.95L783.76 549.82M794.64 550.85L785.64 547.72M688.84 562.14L682.56 581.19M682.56 581.19L672.94 581.54M683.43 578.54L673.81 578.89M718.22 562.11L710.60 580.69M710.60 580.69L700.97 580.43M711.66 578.11L702.03 577.85M835.48 488.75L818.45 500.02M818.45 500.02L810.63 494.88M820.82 498.46L813.00 493.31M864.92 488.72L847.49 499.40M847.49 499.40L839.88 494.00M849.91 497.91L842.30 492.52M894.21 488.33L874.20 493.08M874.20 493.08L868.85 485.75M876.98 492.42L871.63 485.09M923.68 488.31L903.57 492.67M903.57 492.67L898.38 485.25M906.36 492.06L901.17 484.64M953.11 488.12L929.69 489.88M929.69 489.88L925.71 481.85M932.55 489.66L928.57 481.64M935.40 489.45L933.41 485.44M953.11 512.65L929.69 514.41M929.69 514.41L925.71 506.38M932.55 514.19L928.57 506.17M935.40 513.98L933.41 509.97M953.12 536.96L929.73 539.10M929.73 539.10L925.60 531.14M932.58 538.84L928.45 530.88M935.43 538.58L933.37 534.60M953.12 561.02L932.59 562.80M932.59 562.80L928.50 554.82M935.44 562.55L931.36 554.58M217.08 585.85L206.47 602.99M206.47 602.99L197.02 601.31M207.94 600.61L198.49 598.93M246.53 585.84L234.14 605.21M234.14 605.21L224.71 603.40M235.65 602.85L226.22 601.03M237.16 600.48L232.45 599.58M276.16 585.92L266.53 606.72M266.53 606.72L256.93 606.07M267.70 604.18L258.10 603.54M268.88 601.65L264.08 601.32M334.86 609.41L322.80 625.62M322.80 625.62L313.54 623.22M324.48 623.37L315.21 620.97M393.71 585.73L378.48 603.09M378.48 603.09L369.46 600.02M380.34 600.97L371.31 597.90M382.19 598.85L377.68 597.32M423.10 585.66L406.55 601.84M406.55 601.84L397.81 598.15M408.57 599.87L399.83 596.18M410.59 597.90L406.22 596.05M452.66 585.74L439.50 601.13M439.50 601.13L430.43 598.16M441.33 598.99L432.26 596.02"/>
<path stroke="#0000ff" d="M98.58 282.65L78.09 280.50M78.09 280.50L75.79 271.94M80.94 280.80L78.64 272.24M128.22 283.45L110.49 293.65M110.49 293.65L103.05 288.06M112.96 292.23L105.51 286.64M98.57 309.27L78.02 307.83M78.02 307.83L75.39 299.35M80.88 308.03L79.56 303.79M128.31 310.16L111.93 322.30M111.93 322.30L103.83 317.55M114.21 320.61L106.10 315.86M128.36 336.52L112.77 349.60M112.77 349.60L104.36 345.30M114.93 347.78L110.73 345.63M128.40 362.60L113.40 376.31M113.40 376.31L104.80 372.35M115.48 374.41L111.18 372.43M128.47 388.43L114.48 403.12M114.48 403.12L105.60 399.72M116.42 401.08L111.98 399.38M128.54 414.00L115.66 429.62M115.66 429.62L106.54 426.80M117.45 427.45L112.89 426.04M128.62 464.33L117.03 480.87M117.03 480.87L107.70 478.71M118.64 478.57L113.98 477.49M864.90 463.92L847.15 474.09M847.15 474.09L839.72 468.50M849.62 472.68L842.18 467.08M128.57 489.06L116.20 505.06M116.20 505.06L106.99 502.50M117.92 502.84L113.32 501.56M128.47 513.51L114.56 528.26M114.56 528.26L105.66 524.90M116.49 526.21L112.04 524.53M157.77 513.33L141.26 525.30M141.26 525.30L133.21 520.48M143.56 523.64L139.53 521.22M128.33 537.65L112.20 550.11M112.20 550.11L103.99 545.51M114.45 548.38L110.34 546.08M187.29 561.74L171.56 574.66M171.56 574.66L163.20 570.29M173.74 572.87L169.56 570.68M511.62 561.93L499.00 577.74M499.00 577.74L489.83 575.04M500.75 575.54L491.59 572.85M659.45 562.16L654.35 581.54M654.35 581.54L644.77 582.41M655.06 578.85L645.48 579.72M747.73 562.13L740.82 580.97M740.82 580.97L731.19 581.03M741.78 578.35L732.15 578.41M777.15 562.11L769.53 580.69M769.53 580.69L759.91 580.43M770.59 578.11L760.97 577.85M806.26 561.90L793.02 577.23M793.02 577.23L783.97 574.23M794.86 575.10L785.81 572.09M835.48 513.29L818.58 524.73M818.58 524.73L810.70 519.66M820.93 523.14L813.05 518.07M864.94 513.27L847.81 524.40M847.81 524.40L840.04 519.20M850.19 522.85L846.31 520.25M894.21 512.86L874.20 517.61M874.20 517.61L868.85 510.28M876.98 516.95L871.63 509.62M923.68 512.83L903.57 517.20M903.57 517.20L898.38 509.78M906.36 516.59L901.17 509.17M835.50 537.60L818.81 549.33M818.81 549.33L810.83 544.39M821.13 547.70L817.14 545.23M894.22 537.16L874.26 542.13M874.26 542.13L868.82 534.86M877.03 541.44L871.60 534.17M923.67 537.10L903.48 541.11M903.48 541.11L898.44 533.60M906.29 540.55L901.25 533.04M835.52 561.69L819.12 573.80M819.12 573.80L811.02 569.04M821.40 572.12L817.35 569.74M894.22 561.22L874.22 566.04M874.22 566.04L868.84 558.74M877.00 565.37L874.31 561.72M923.67 561.16L903.48 565.17M903.48 565.17L898.44 557.66M906.29 564.61L903.77 560.86M187.32 585.62L172.19 599.20M172.19 599.20L163.63 595.16M174.30 597.31L170.02 595.29M98.59 608.59L78.33 612.23M78.33 612.23L73.44 604.64M81.14 611.73L78.70 607.93M217.11 609.48L206.95 626.88M206.95 626.88L197.45 625.41M208.36 624.46L203.61 623.73M246.57 609.47L236.18 626.75M236.18 626.75L226.71 625.18M237.63 624.35L228.15 622.78M276.19 609.55L268.17 627.97M268.17 627.97L258.55 627.53M269.28 625.41L259.67 624.96M305.67 609.55L297.82 628.05M297.82 628.05L288.20 627.68M298.91 625.48L289.29 625.11M364.35 609.43L352.74 625.94M352.74 625.94L343.41 623.77M354.35 623.65L345.02 621.47M482.14 585.75L469.26 601.36M469.26 601.36L460.14 598.54M471.05 599.19L461.93 596.37M511.62 585.76L498.86 601.47M498.86 601.47L489.72 598.71M500.63 599.28L496.06 597.90M393.70 609.33L380.19 624.44M380.19 624.44L371.20 621.29M382.07 622.34L373.08 619.19M423.15 609.32L409.38 624.20M409.38 624.20L400.45 620.91M411.30 622.13L406.83 620.49M452.70 609.39L440.21 625.30M440.21 625.30L431.02 622.68M441.95 623.08L437.35 621.77M541.15 585.81L529.46 602.28M529.46 602.28L520.14 600.06M531.08 599.99L526.43 598.88M953.12 584.86L932.60 586.72M932.60 586.72L928.48 578.75M935.45 586.46L931.33 578.50"/>
<path stroke="#5000ff" d="M98.57 335.64L77.97 335.17M77.97 335.17L74.89 326.83M80.83 335.24L79.29 331.07M128.61 439.32L116.89 455.76M116.89 455.76L107.57 453.53M118.52 453.48L113.86 452.36M157.84 537.70L142.45 551.00M142.45 551.00L133.97 546.82M144.59 549.15L140.35 547.06M128.32 561.70L112.10 574.04M112.10 574.04L103.93 569.39M114.36 572.33L110.27 570.00M157.86 561.79L142.83 575.47M142.83 575.47L134.24 571.49M144.92 573.57L140.62 571.58M864.97 537.61L848.32 549.39M848.32 549.39L840.33 544.48M850.63 547.75L846.64 545.30M864.99 561.70L848.67 573.91M848.67 573.91L840.54 569.19M850.94 572.21L846.87 569.85M98.61 585.08L78.72 590.29M78.72 590.29L73.18 583.08M81.48 589.56L78.72 585.96M187.36 609.27L172.80 623.42M172.80 623.42L164.07 619.70M174.82 621.45L170.46 619.59M217.15 632.90L208.90 648.12M208.90 648.12L199.36 646.94M246.63 632.90L238.51 648.19M238.51 648.19L228.96 647.08M276.26 632.97L270.34 649.18M270.34 649.18L260.71 649.26M305.76 632.98L300.28 649.34M300.28 649.34L290.66 649.65M482.14 609.37L469.33 625.03M469.33 625.03L460.19 622.24M471.11 622.85L466.54 621.46M511.62 609.38L498.93 625.13M498.93 625.13L489.77 622.41M500.69 622.94L496.12 621.58M570.83 585.92L562.34 604.15M562.34 604.15L552.74 603.48M563.52 601.61L558.72 601.28M600.36 585.95L592.85 604.57M592.85 604.57L583.22 604.36M593.89 601.98L589.08 601.88M629.96 585.99L624.54 605.29M624.54 605.29L614.95 606.02M625.30 602.61L620.50 602.97M659.69 586.03L658.24 605.99M658.24 605.99L648.99 608.41M658.44 603.21L653.82 604.43M541.16 609.43L531.17 623.63M531.17 623.63L521.84 621.46M688.90 585.99L683.63 605.33M683.63 605.33L674.04 606.12M684.36 602.64L679.57 603.04M718.32 585.98L712.29 605.10M712.29 605.10L702.67 605.56M713.13 602.45L708.32 602.67M747.83 585.99L742.37 605.28M742.37 605.28L732.77 605.99M743.13 602.60L738.33 602.95M777.19 585.96L771.14 602.13M771.14 602.13L761.51 602.13M806.26 585.74L793.12 601.15M793.12 601.15L784.05 598.19M794.95 599.01L790.41 597.53M835.54 585.55L821.75 596.36M821.75 596.36L813.51 591.81M865.01 585.56L851.31 596.46M851.31 596.46L843.02 591.97M894.22 585.08L874.35 590.36M874.35 590.36L868.78 583.17M877.11 589.63L874.33 586.03M923.66 584.96L903.36 588.36M903.36 588.36L898.57 580.72M906.18 587.89L903.79 584.07M953.12 608.47L935.47 610.07M935.47 610.07L931.35 602.10"/>
<path stroke="#6900ff" d="M98.57 361.81L80.91 363.22M80.91 363.22L76.89 355.22M98.59 387.72L81.17 390.88M81.17 390.88L76.27 383.29M98.60 413.26L81.26 416.84M81.26 416.84L76.16 409.37M98.62 438.61L81.60 443.39M81.60 443.39L75.92 436.27M98.66 463.73L82.15 469.99M82.15 469.99L75.79 463.37M98.75 488.68L83.46 497.38M83.46 497.38L76.05 491.76M98.79 513.27L84.08 522.86M84.08 522.86L76.30 517.67M98.81 537.59L84.36 547.55M84.36 547.55L76.44 542.54M98.71 561.48L82.87 569.20M82.87 569.20L75.87 563.15M128.40 585.63L115.52 597.44M115.52 597.44L106.91 593.49M157.86 585.63L144.94 597.40M144.94 597.40L136.35 593.42M128.43 609.27L115.89 621.43M115.89 621.43L107.17 617.71M157.90 609.28L145.47 621.54M145.47 621.54L136.71 617.87M98.61 632.09L81.52 636.61M81.52 636.61L75.96 629.41M128.44 632.68L116.07 645.00M116.07 645.00L107.29 641.37M157.90 632.68L145.49 644.95M145.49 644.95L136.73 641.30M187.36 632.67L174.83 644.83M174.83 644.83L166.11 641.11M98.66 655.42L82.22 661.84M84.88 660.80L81.66 657.52M128.48 655.90L116.61 668.67M118.53 666.60L114.06 664.95M571.01 609.60L566.17 626.15M566.17 626.15L556.57 626.79M600.65 609.64L598.10 626.66M598.51 623.91L593.80 624.80M630.32 609.65L630.44 626.85M630.42 624.07L625.91 625.61"/>
</g>
<rect x="70.0" y="45.0" width="884.1" height="632.8" fill="none" stroke="#000" stroke-width="1.9"/>
<rect x="69.05" y="121.11" width="0.9" height="1" fill="#d8d8d8"/>
<rect x="69.05" y="182.31" width="0.9" height="1" fill="#d8d8d8"/>
<rect x="69.05" y="242.07" width="0.9" height="1" fill="#d8d8d8"/>
<rect x="69.05" y="300.46" width="0.9" height="1" fill="#d8d8d8"/>
<rect x="69.05" y="357.53" width="0.9" height="1" fill="#d8d8d8"/>
<rect x="69.05" y="413.35" width="0.9" height="1" fill="#d8d8d8"/>
<rect x="69.05" y="467.97" width="0.9" height="1" fill="#d8d8d8"/>
<rect x="69.05" y="521.44" width="0.9" height="1" fill="#d8d8d8"/>
<rect x="69.05" y="573.81" width="0.9" height="1" fill="#d8d8d8"/>
<rect x="69.05" y="625.12" width="0.9" height="1" fill="#d8d8d8"/>
<line x1="60.3" y1="59.3" x2="69.2" y2="59.3" stroke="#333" stroke-width="0.9"/>
<line x1="60.3" y1="137.5" x2="69.2" y2="137.5" stroke="#333" stroke-width="0.9"/>
<line x1="60.3" y1="213.3" x2="69.2" y2="213.3" stroke="#333" stroke-width="0.9"/>
<line x1="60.3" y1="286.9" x2="69.2" y2="286.9" stroke="#333" stroke-width="0.9"/>
<line x1="60.3" y1="358.4" x2="69.2" y2="358.4" stroke="#333" stroke-width="0.9"/>
<line x1="60.3" y1="428.0" x2="69.2" y2="428.0" stroke="#333" stroke-width="0.9"/>
<line x1="60.3" y1="495.7" x2="69.2" y2="495.7" stroke="#333" stroke-width="0.9"/>
<line x1="60.3" y1="561.7" x2="69.2" y2="561.7" stroke="#333" stroke-width="0.9"/>
<line x1="60.3" y1="626.0" x2="69.2" y2="626.0" stroke="#333" stroke-width="0.9"/>
<line x1="70.0" y1="678" x2="70.0" y2="683.4" stroke="#000" stroke-width="1.2"/>
<line x1="246.8" y1="678" x2="246.8" y2="683.4" stroke="#000" stroke-width="1.2"/>
<line x1="423.6" y1="678" x2="423.6" y2="683.4" stroke="#000" stroke-width="1.2"/>
<line x1="600.5" y1="678" x2="600.5" y2="683.4" stroke="#000" stroke-width="1.2"/>
<line x1="777.3" y1="678" x2="777.3" y2="683.4" stroke="#000" stroke-width="1.2"/>
<line x1="954.1" y1="678" x2="954.1" y2="683.4" stroke="#000" stroke-width="1.2"/>
<rect x="959.8" y="102.80" width="16.6" height="17.83" fill="#ff00ff" stroke="#000" stroke-width="1.2"/>
<rect x="959.8" y="120.63" width="16.6" height="17.83" fill="#ff00dc" stroke="#000" stroke-width="1.2"/>
<rect x="959.8" y="138.47" width="16.6" height="17.83" fill="#ff0087" stroke="#000" stroke-width="1.2"/>
<rect x="959.8" y="156.30" width="16.6" height="17.83" fill="#ff006e" stroke="#000" stroke-width="1.2"/>
<rect x="959.8" y="174.14" width="16.6" height="17.83" fill="#ff0055" stroke="#000" stroke-width="1.2"/>
<rect x="959.8" y="191.97" width="16.6" height="17.83" fill="#ff0032" stroke="#000" stroke-width="1.2"/>
<rect x="959.8" y="209.81" width="16.6" height="17.83" fill="#ff0a00" stroke="#000" stroke-width="1.2"/>
<rect x="959.8" y="227.64" width="16.6" height="17.83" fill="#ff3700" stroke="#000" stroke-width="1.2"/>
<rect x="959.8" y="245.48" width="16.6" height="17.83" fill="#ff6400" stroke="#000" stroke-width="1.2"/>
<rect x="959.8" y="263.31" width="16.6" height="17.83" fill="#ff8200" stroke="#000" stroke-width="1.2"/>
<rect x="959.8" y="281.14" width="16.6" height="17.83" fill="#ffa000" stroke="#000" stroke-width="1.2"/>
<rect x="959.8" y="298.98" width="16.6" height="17.83" fill="#ffbe00" stroke="#000" stroke-width="1.2"/>
<rect x="959.8" y="316.81" width="16.6" height="17.83" fill="#ffdc00" stroke="#000" stroke-width="1.2"/>
<rect x="959.8" y="334.65" width="16.6" height="17.83" fill="#ffff00" stroke="#000" stroke-width="1.2"/>
<rect x="959.8" y="352.48" width="16.6" height="17.83" fill="#ebff00" stroke="#000" stroke-width="1.2"/>
<rect x="959.8" y="370.32" width="16.6" height="17.83" fill="#82ff00" stroke="#000" stroke-width="1.2"/>
<rect x="959.8" y="388.15" width="16.6" height="17.83" fill="#41ff00" stroke="#000" stroke-width="1.2"/>
<rect x="959.8" y="405.99" width="16.6" height="17.83" fill="#00ff55" stroke="#000" stroke-width="1.2"/>
<rect x="959.8" y="423.82" width="16.6" height="17.83" fill="#00ff7d" stroke="#000" stroke-width="1.2"/>
<rect x="959.8" y="441.66" width="16.6" height="17.83" fill="#00ffa0" stroke="#000" stroke-width="1.2"/>
<rect x="959.8" y="459.49" width="16.6" height="17.83" fill="#00ffd7" stroke="#000" stroke-width="1.2"/>
<rect x="959.8" y="477.32" width="16.6" height="17.83" fill="#00c0ff" stroke="#000" stroke-width="1.2"/>
<rect x="959.8" y="495.16" width="16.6" height="17.83" fill="#0096ff" stroke="#000" stroke-width="1.2"/>
<rect x="959.8" y="512.99" width="16.6" height="17.83" fill="#0078ff" stroke="#000" stroke-width="1.2"/>
<rect x="959.8" y="530.83" width="16.6" height="17.83" fill="#0055ff" stroke="#000" stroke-width="1.2"/>
<rect x="959.8" y="548.66" width="16.6" height="17.83" fill="#0028ff" stroke="#000" stroke-width="1.2"/>
<rect x="959.8" y="566.50" width="16.6" height="17.83" fill="#0000ff" stroke="#000" stroke-width="1.2"/>
<rect x="959.8" y="584.33" width="16.6" height="17.83" fill="#5000ff" stroke="#000" stroke-width="1.2"/>
<rect x="959.8" y="602.17" width="16.6" height="17.83" fill="#6900ff" stroke="#000" stroke-width="1.2"/>
<polygon points="959.8,102.8 968.1,84.9 976.4,102.8" fill="#000000" stroke="#000" stroke-width="1.2" stroke-linejoin="miter"/>
<polygon points="959.8,620.0 968.1,637.6 976.4,620.0" fill="#9600ff" stroke="#000" stroke-width="1.2" stroke-linejoin="miter"/>
<text class="ax" transform="translate(18.90,66.00) scale(1.12,1)" font-size="19.9" letter-spacing="1.652">800</text>
<text class="ax" transform="translate(18.90,144.15) scale(1.12,1)" font-size="19.9" letter-spacing="1.764">825</text>
<text class="ax" transform="translate(18.90,219.97) scale(1.12,1)" font-size="19.9" letter-spacing="1.652">850</text>
<text class="ax" transform="translate(18.90,293.59) scale(1.12,1)" font-size="19.9" letter-spacing="1.764">875</text>
<text class="ax" transform="translate(18.90,365.13) scale(1.12,1)" font-size="19.9" letter-spacing="1.652">900</text>
<text class="ax" transform="translate(18.90,434.72) scale(1.12,1)" font-size="19.9" letter-spacing="1.764">925</text>
<text class="ax" transform="translate(18.90,502.45) scale(1.12,1)" font-size="19.9" letter-spacing="1.652">950</text>
<text class="ax" transform="translate(18.90,568.42) scale(1.12,1)" font-size="19.9" letter-spacing="1.764">975</text>
<text class="ax" transform="translate(6.55,632.72) scale(1.12,1)" font-size="19.9" letter-spacing="1.086">1000</text>
<text class="xl" x="54.10" y="700.80" font-size="19.8" letter-spacing="-1.225">12Z</text>
<text class="xl" x="44.00" y="719.90" font-size="19.6" letter-spacing="-1.474">13JAN</text>
<text class="xl" x="47.75" y="738.80" font-size="19.6" letter-spacing="0.250">2026</text>
<text class="xl" x="230.72" y="700.80" font-size="19.8" letter-spacing="-0.700">00Z</text>
<text class="xl" x="220.82" y="719.90" font-size="19.6" letter-spacing="-1.476">14JAN</text>
<text class="xl" x="407.74" y="700.80" font-size="19.8" letter-spacing="-1.225">12Z</text>
<text class="xl" x="584.36" y="700.80" font-size="19.8" letter-spacing="-0.700">00Z</text>
<text class="xl" x="574.46" y="719.90" font-size="19.6" letter-spacing="-1.476">15JAN</text>
<text class="xl" x="761.38" y="700.80" font-size="19.8" letter-spacing="-1.225">12Z</text>
<text class="xl" x="938.00" y="700.80" font-size="19.8" letter-spacing="-0.700">00Z</text>
<text class="xl" x="928.10" y="719.90" font-size="19.6" letter-spacing="-1.476">16JAN</text>
<text class="cb" x="981.55" y="108.50" font-size="16.0" letter-spacing="1.375">150</text>
<text class="cb" x="981.55" y="126.33" font-size="16.0" letter-spacing="1.375">145</text>
<text class="cb" x="981.55" y="144.17" font-size="16.0" letter-spacing="1.375">140</text>
<text class="cb" x="981.55" y="162.00" font-size="16.0" letter-spacing="1.375">135</text>
<text class="cb" x="981.55" y="179.84" font-size="16.0" letter-spacing="1.375">130</text>
<text class="cb" x="981.55" y="197.67" font-size="16.0" letter-spacing="1.375">125</text>
<text class="cb" x="981.55" y="215.51" font-size="16.0" letter-spacing="1.375">120</text>
<text class="cb" x="981.55" y="233.34" font-size="16.0" letter-spacing="2.000">115</text>
<text class="cb" x="981.55" y="251.18" font-size="16.0" letter-spacing="1.875">110</text>
<text class="cb" x="981.55" y="269.01" font-size="16.0" letter-spacing="1.375">105</text>
<text class="cb" x="981.55" y="286.84" font-size="16.0" letter-spacing="1.375">100</text>
<text class="cb" x="981.95" y="304.68" font-size="16.0" letter-spacing="1.200">95</text>
<text class="cb" x="981.95" y="322.51" font-size="16.0" letter-spacing="1.200">90</text>
<text class="cb" x="981.95" y="340.35" font-size="16.0" letter-spacing="1.200">85</text>
<text class="cb" x="981.95" y="358.18" font-size="16.0" letter-spacing="1.200">80</text>
<text class="cb" x="981.95" y="376.02" font-size="16.0" letter-spacing="1.200">75</text>
<text class="cb" x="981.95" y="393.85" font-size="16.0" letter-spacing="1.200">70</text>
<text class="cb" x="981.95" y="411.69" font-size="16.0" letter-spacing="1.200">65</text>
<text class="cb" x="981.95" y="429.52" font-size="16.0" letter-spacing="1.200">60</text>
<text class="cb" x="981.95" y="447.36" font-size="16.0" letter-spacing="1.200">55</text>
<text class="cb" x="981.95" y="465.19" font-size="16.0" letter-spacing="1.200">50</text>
<text class="cb" x="982.45" y="483.02" font-size="16.0" letter-spacing="0.700">45</text>
<text class="cb" x="982.45" y="500.86" font-size="16.0" letter-spacing="0.700">40</text>
<text class="cb" x="981.95" y="518.69" font-size="16.0" letter-spacing="1.200">35</text>
<text class="cb" x="981.95" y="536.53" font-size="16.0" letter-spacing="1.200">30</text>
<text class="cb" x="981.95" y="554.36" font-size="16.0" letter-spacing="1.200">25</text>
<text class="cb" x="981.95" y="572.20" font-size="16.0" letter-spacing="1.200">20</text>
<text class="cb" x="981.45" y="590.03" font-size="16.0" letter-spacing="1.700">15</text>
<text class="cb" x="981.45" y="607.87" font-size="16.0" letter-spacing="1.700">10</text>
<text class="cb" x="981.05" y="625.70" font-size="16.0" letter-spacing="0.000">5</text>
<text class="t" x="78.10" y="29.35" font-size="32.0" letter-spacing="1.039">2026011312</text>
<text class="t" transform="translate(280.75,29.55) scale(0.82,1)" font-size="32.3" letter-spacing="1.354">NAM3KM</text>
<text class="t" x="418.70" y="29.50" font-size="29.8" letter-spacing="1.579">forecast</text>
<text class="t" x="555.30" y="29.50" font-size="29.8" letter-spacing="-0.034">wind</text>
<text class="t" x="633.60" y="29.50" font-size="29.8" letter-spacing="1.317">profile</text>
<text class="t" x="740.75" y="29.50" font-size="29.8" letter-spacing="1.716"><tspan font-size="35" dy="-1">(</tspan><tspan dy="1">kt</tspan><tspan font-size="35" dy="-1">)</tspan></text>
<text class="t" x="812.10" y="29.50" font-size="29.8" letter-spacing="1.625">for</text>
<text class="t" transform="translate(868.05,29.55) scale(0.82,1)" font-size="32.3" letter-spacing="-0.183">KEWB</text>
<text class="fl" transform="translate(357.70,759.90) scale(1.08,1)" font-size="27.5" letter-spacing="1.422">Forecast</text>
<text class="fl" transform="translate(500.05,759.90) scale(1.08,1)" font-size="27.5" letter-spacing="0.849">Time</text>
<text class="fl" transform="translate(584.60,759.90) scale(1.08,1)" font-size="27.5" letter-spacing="-0.521"><tspan font-size="30.3" dy="-0.9">(</tspan><tspan dy="0.9">UTC</tspan><tspan font-size="30.3" dy="-0.9">)</tspan></text>
<text class="cr" transform="translate(825.85,760.60) scale(1.26,1)" font-size="15.6" letter-spacing="0.570">coolwx.com/modelts</text>
</svg>
</body></html>
